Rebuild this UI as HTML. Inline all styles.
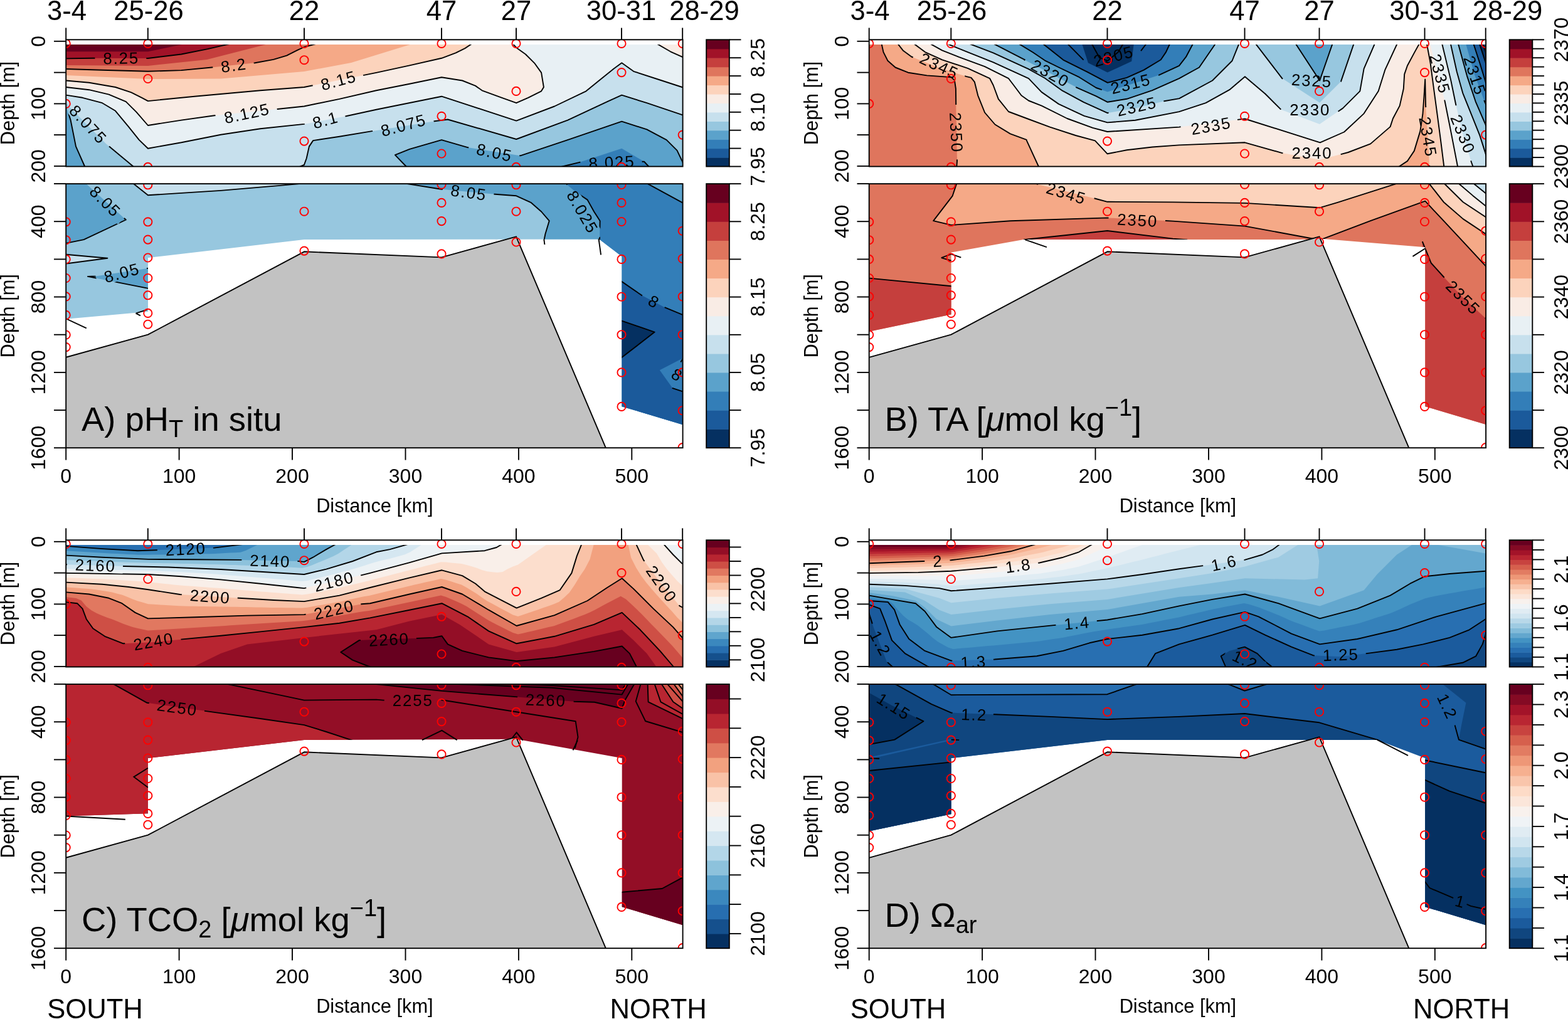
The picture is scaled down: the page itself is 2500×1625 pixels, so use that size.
<!DOCTYPE html>
<html lang="en"><head><meta charset="utf-8"><title>Carbonate chemistry sections</title>
<style>html,body{margin:0;padding:0;background:#fff}svg{display:block}text{font-family:"Liberation Sans", sans-serif;fill:#000}.cl{font-family:"Liberation Sans", sans-serif}</style></head><body>
<svg xmlns="http://www.w3.org/2000/svg" width="2500" height="1625" viewBox="0 0 2500 1625">
<rect width="2500" height="1625" fill="#fff"/>
<!-- panel A -->
<g transform="translate(0,0)">
<clipPath id="c1"><rect x="105.2" y="71" width="983.4" height="194.5"/></clipPath>
<clipPath id="bc1"><rect x="105.2" y="63.3" width="983.4" height="202.2"/></clipPath>
<mask id="m1" maskUnits="userSpaceOnUse" x="0" y="0" width="1300" height="800"><rect x="0" y="0" width="1300" height="800" fill="#fff"/><rect x="151.4" y="81.2" width="81.9" height="23.2" fill="#000" transform="rotate(-1 192.4 92.8)"/><rect x="339.2" y="92.8" width="65.7" height="23.2" fill="#000" transform="rotate(-8 372 104.4)"/><rect x="498" y="116.9" width="81.9" height="23.2" fill="#000" transform="rotate(-15 539 128.5)"/><rect x="343.9" y="169.4" width="98.2" height="23.2" fill="#000" transform="rotate(-12 393 181)"/><rect x="485.2" y="180" width="65.7" height="23.2" fill="#000" transform="rotate(-15 518 191.6)"/><rect x="90.9" y="186.4" width="98.2" height="23.2" fill="#000" transform="rotate(47 140 198)"/><rect x="593.4" y="188.4" width="98.2" height="23.2" fill="#000" transform="rotate(-15 642.5 200)"/><rect x="746.5" y="231.4" width="81.9" height="23.2" fill="#000" transform="rotate(12 787.5 243)"/><rect x="925.4" y="247.2" width="98.2" height="23.2" fill="#000" transform="rotate(-3 974.5 258.8)"/></mask>
<g clip-path="url(#c1)">
<rect x="105.2" y="63.3" width="983.4" height="202.2" fill="#e8f0f4"/>
<polygon points="93.3,137.7 105.3,139 142,143.2 173.5,150.6 200.8,162.1 217.6,178.9 235.9,200 289.1,191.6 341.6,184.2 444.5,173.7 484.9,169.5 541.2,157.9 600,144.3 653,133.8 704.1,123.3 737.1,128.5 758.1,136.9 768.6,144.3 800.1,155.8 823.2,164.2 842.1,155.8 863.1,145.3 866.9,139 863.1,115.9 852.6,101.2 837.9,86.5 823.2,76 817.9,70.1 809.9,61.2 809.9,-3000 -3000,-3000 -3000,137.7" fill="#f9ece5"/>
<polygon points="1037.6,64.1 1048,70.1 1069,82.3 1087.5,90.7 1098.4,95.7 6000,95.7 6000,-3000 1037.6,-3000" fill="#f9ece5"/>
<polygon points="93.3,127.5 105.3,128.5 142,131.7 184,139 209.2,147.4 226.1,155.8 235.9,161.1 310.1,153.7 415.1,144.3 484.9,139 600,115.9 653,104.4 704.1,92.8 726.6,84.4 741.3,77.1 751.8,70.1 761.8,63.5 761.8,-3000 -3000,-3000 -3000,127.5" fill="#fcd3bc"/>
<polygon points="93,119.5 105,120 236,126 352,125.5 485,114 560,100 655,70.7 666.5,67.2 666.5,-3000 -3000,-3000 -3000,119.5" fill="#f5a987"/>
<polygon points="93.3,109.7 105.3,110 163,111.7 235.9,113.8 289.1,112.1 337.4,107.5 406.7,100.2 436.1,94.9 457.1,88.6 473.9,80.2 484.9,75 503.4,70.1 515,67.1 515,-3000 -3000,-3000 -3000,109.7" fill="#df755d"/>
<polygon points="93,103.9 105,104 236,105 330,95 425,70.7 436.6,67.7 436.6,-3000 -3000,-3000 -3000,103.9" fill="#c53f3d"/>
<polygon points="93.3,93.6 105.3,93.4 148.3,92.8 235.9,93 289.1,86.5 331.1,78.1 364.7,70.3 376.4,67.6 376.4,-3000 -3000,-3000 -3000,93.6" fill="#a11228"/>
<polygon points="93,82.3 105,82.3 236,82.3 291.6,70.7 303.3,68.2 303.3,-3000 -3000,-3000 -3000,82.3" fill="#67001f"/>
<polygon points="93.4,149.7 105.3,151.6 131.5,155.8 163,164.2 184,176.8 205,202.1 221.8,223.1 235.9,236.7 289.1,227.3 352.1,214.7 415.1,205.2 484.9,197.9 551.7,185.3 600,174.7 704.1,153.7 823.2,192.6 884.1,169.5 934.5,145.3 957.6,126.4 978.7,109.6 991.3,100.2 1010.2,113.8 1052.2,127.5 1087.5,139 1098.9,142.8 6000,142.8 6000,3000 -3000,3000 -3000,149.7" fill="#c7e0ed"/>
<polygon points="97.9,153.7 105.3,163.2 112.6,172.6 169.3,229.4 194.5,250.4 211.3,264.5 220.5,272.2 220.5,3000 -3000,3000 -3000,153.7" fill="#97c7df"/>
<polygon points="470.2,269 481.3,264.5 484.9,263 488.7,252.5 492.9,233.6 499.2,224.1 541.2,217.8 591.6,209.4 692.9,193.2 713.9,190.5 823.2,222 905.1,191.6 968.2,162.1 991.3,151.6 1031.2,164.2 1087.5,183.2 1098.9,187 6000,187 6000,3000 470.2,3000" fill="#97c7df"/>
<polygon points="101.6,157 105.3,168.4 112.6,191.6 121,233.6 134.7,264.5 139.5,275.4 139.5,3000 -3000,3000 -3000,157" fill="#5ba2cb"/>
<polygon points="655.1,273 646.7,264.5 629.9,247.2 653,237.8 704.1,223.1 746.5,235.3 829.5,248.3 905.1,223.1 991.3,193.7 1031.2,206.3 1062.7,223.1 1079.5,239.9 1087.5,256.7 1092.6,267.5 6000,267.5 6000,3000 655.1,3000" fill="#5ba2cb"/>
<polygon points="889.3,267.3 900.9,264.5 924,258.8 991.3,236.7 1027,257.7 1033.3,264.5 1041.5,273.2" fill="#337eb8"/>
</g>
<g clip-path="url(#c1)"><g mask="url(#m1)" fill="none" stroke="#000" stroke-width="1.9" stroke-linejoin="round">
<polyline points="93.3,137.7 105.3,139 142,143.2 173.5,150.6 200.8,162.1 217.6,178.9 235.9,200 289.1,191.6 341.6,184.2 444.5,173.7 484.9,169.5 541.2,157.9 600,144.3 653,133.8 704.1,123.3 737.1,128.5 758.1,136.9 768.6,144.3 800.1,155.8 823.2,164.2 842.1,155.8 863.1,145.3 866.9,139 863.1,115.9 852.6,101.2 837.9,86.5 823.2,76 817.9,70.1 809.9,61.2"/>
<polyline points="1037.6,64.1 1048,70.1 1069,82.3 1087.5,90.7 1098.4,95.7"/>
<polyline points="93.3,127.5 105.3,128.5 142,131.7 184,139 209.2,147.4 226.1,155.8 235.9,161.1 310.1,153.7 415.1,144.3 484.9,139 600,115.9 653,104.4 704.1,92.8 726.6,84.4 741.3,77.1 751.8,70.1 761.8,63.5"/>
<polyline points="93.3,109.7 105.3,110 163,111.7 235.9,113.8 289.1,112.1 337.4,107.5 406.7,100.2 436.1,94.9 457.1,88.6 473.9,80.2 484.9,75 503.4,70.1 515,67.1"/>
<polyline points="93.3,93.6 105.3,93.4 148.3,92.8 235.9,93 289.1,86.5 331.1,78.1 364.7,70.3 376.4,67.6"/>
<polyline points="93.4,149.7 105.3,151.6 131.5,155.8 163,164.2 184,176.8 205,202.1 221.8,223.1 235.9,236.7 289.1,227.3 352.1,214.7 415.1,205.2 484.9,197.9 551.7,185.3 600,174.7 704.1,153.7 823.2,192.6 884.1,169.5 934.5,145.3 957.6,126.4 978.7,109.6 991.3,100.2 1010.2,113.8 1052.2,127.5 1087.5,139 1098.9,142.8"/>
<polyline points="97.9,153.7 105.3,163.2 112.6,172.6 169.3,229.4 194.5,250.4 211.3,264.5 220.5,272.2"/>
<polyline points="470.2,269 481.3,264.5 484.9,263 488.7,252.5 492.9,233.6 499.2,224.1 541.2,217.8 591.6,209.4 692.9,193.2 713.9,190.5 823.2,222 905.1,191.6 968.2,162.1 991.3,151.6 1031.2,164.2 1087.5,183.2 1098.9,187"/>
<polyline points="101.6,157 105.3,168.4 112.6,191.6 121,233.6 134.7,264.5 139.5,275.4"/>
<polyline points="655.1,273 646.7,264.5 629.9,247.2 653,237.8 704.1,223.1 746.5,235.3 829.5,248.3 905.1,223.1 991.3,193.7 1031.2,206.3 1062.7,223.1 1079.5,239.9 1087.5,256.7 1092.6,267.5"/>
<polyline points="889.3,267.3 900.9,264.5 924,258.8 1027,257.7 1033.3,264.5 1041.5,273.2"/>
</g></g>
<g clip-path="url(#bc1)">
<text x="193.3" y="92.8" transform="rotate(-1 192.4 92.8)" font-size="25.8" letter-spacing="1.9" text-anchor="middle" dominant-baseline="central" class="cl">8.25</text>
<text x="372.9" y="104.4" transform="rotate(-8 372 104.4)" font-size="25.8" letter-spacing="1.9" text-anchor="middle" dominant-baseline="central" class="cl">8.2</text>
<text x="540" y="128.5" transform="rotate(-15 539 128.5)" font-size="25.8" letter-spacing="1.9" text-anchor="middle" dominant-baseline="central" class="cl">8.15</text>
<text x="393.9" y="181" transform="rotate(-12 393 181)" font-size="25.8" letter-spacing="1.9" text-anchor="middle" dominant-baseline="central" class="cl">8.125</text>
<text x="519" y="191.6" transform="rotate(-15 518 191.6)" font-size="25.8" letter-spacing="1.9" text-anchor="middle" dominant-baseline="central" class="cl">8.1</text>
<text x="140.9" y="198" transform="rotate(47 140 198)" font-size="25.8" letter-spacing="1.9" text-anchor="middle" dominant-baseline="central" class="cl">8.075</text>
<text x="643.5" y="200" transform="rotate(-15 642.5 200)" font-size="25.8" letter-spacing="1.9" text-anchor="middle" dominant-baseline="central" class="cl">8.075</text>
<text x="788.5" y="243" transform="rotate(12 787.5 243)" font-size="25.8" letter-spacing="1.9" text-anchor="middle" dominant-baseline="central" class="cl">8.05</text>
<text x="975.5" y="258.8" transform="rotate(-3 974.5 258.8)" font-size="25.8" letter-spacing="1.9" text-anchor="middle" dominant-baseline="central" class="cl">8.025</text>
</g>
<g clip-path="url(#bc1)" fill="none" stroke="#f00" stroke-width="1.9">
<circle cx="105.2" cy="69.4" r="6.6"/>
<circle cx="105.2" cy="165.4" r="6.6"/>
<circle cx="235.8" cy="69.4" r="6.6"/>
<circle cx="235.8" cy="125.5" r="6.6"/>
<circle cx="235.8" cy="266.4" r="6.6"/>
<circle cx="485" cy="69.4" r="6.6"/>
<circle cx="485" cy="95.7" r="6.6"/>
<circle cx="485" cy="225.1" r="6.6"/>
<circle cx="704" cy="69.4" r="6.6"/>
<circle cx="704" cy="185.3" r="6.6"/>
<circle cx="704" cy="245" r="6.6"/>
<circle cx="823" cy="69.4" r="6.6"/>
<circle cx="823" cy="145.4" r="6.6"/>
<circle cx="823" cy="266.4" r="6.6"/>
<circle cx="991" cy="69.4" r="6.6"/>
<circle cx="991" cy="115.6" r="6.6"/>
<circle cx="991" cy="266.4" r="6.6"/>
<circle cx="1088.2" cy="69.4" r="6.6"/>
<circle cx="1088.2" cy="215.1" r="6.6"/>
</g>
<rect x="105.2" y="63.3" width="983.4" height="202.2" fill="none" stroke="#000" stroke-width="1.9"/>
</g>
<g transform="translate(0,0)">
<clipPath id="c2"><polygon points="105.2,293 1088.5,293 1088.5,677.2 991.5,648.2 991.5,409 955.5,381.6 485,382 236,411 236,497 105.2,508.7"/></clipPath>
<clipPath id="bc2"><rect x="105.2" y="293.1" width="983.4" height="421.1"/></clipPath>
<mask id="m2" maskUnits="userSpaceOnUse" x="0" y="0" width="1300" height="800"><rect x="0" y="0" width="1300" height="800" fill="#fff"/><rect x="126.2" y="309.1" width="81.9" height="23.2" fill="#000" transform="rotate(45 167.2 320.7)"/><rect x="152.5" y="423.6" width="81.9" height="23.2" fill="#000" transform="rotate(-15 193.5 435.2)"/><rect x="705.5" y="295.4" width="81.9" height="23.2" fill="#000" transform="rotate(8 746.5 307)"/><rect x="879.1" y="325.9" width="98.2" height="23.2" fill="#000" transform="rotate(60 928.2 337.5)"/><rect x="1021.7" y="469.1" width="40.3" height="23.2" fill="#000" transform="rotate(30 1041.9 480.7)"/><rect x="1058.8" y="585.9" width="40.3" height="23.2" fill="#000" transform="rotate(30 1079 597.5)"/></mask>
<g clip-path="url(#c2)">
<rect x="105.2" y="293.1" width="983.4" height="421.1" fill="#97c7df"/>
<polygon points="211.3,291.7 211.3,291.7 235.9,311.3 352.1,303.9 446.6,295.9 482.4,292.6 482.4,292.6" fill="#c7e0ed"/>
<polygon points="103.2,405.6 103.2,405.6 171.4,411.7 103.2,420.7 103.2,420.7" fill="#c7e0ed"/>
<polygon points="128.9,285.3 137.8,293.4 200.8,350.5 133.6,382.1 105.3,387.9 93.5,390.4 -3000,390.4 -3000,-3000 128.9,-3000" fill="#5ba2cb"/>
<polygon points="238.7,427.4 238.7,427.4 152.5,440.5 139.9,440.9 238.7,460.4 238.7,460.4" fill="#5ba2cb"/>
<polygon points="639.1,291.5 650.9,293.4 703.4,301.8 789.6,309.8 823.2,312.3 846.3,322.8 863.1,337.5 875.7,352.2 869.4,373.2 867.3,383.7 865,395.5 865,3000 6000,3000 6000,-3000 639.1,-3000" fill="#5ba2cb"/>
<polygon points="893.9,285.6 903,293.4 917.7,306 936.6,318.6 947.1,337.5 956.6,352.2 956,381.6 955.7,393.6 955.7,3000 6000,3000 6000,-3000 893.9,-3000" fill="#337eb8"/>
<polygon points="1022.7,287.7 1033.3,293.4 1087.5,322.8 1098,328.5 6000,328.5 6000,-3000 1022.7,-3000" fill="#5ba2cb"/>
<polygon points="981.7,442.2 991.5,449.1 1022.9,470.8 1060.9,490.7 1089.5,502.5 1100.6,507 6000,507 6000,3000 981.7,3000" fill="#1b5a9b"/>
<polygon points="988.5,510.6 988.5,510.6 1043.7,529.6 988.5,572.2 988.5,572.2" fill="#053061"/>
<polygon points="1091.7,569.5 1091.7,569.5 1051.8,590.3 1071.8,618.3 1091.7,625 1091.7,625" fill="#337eb8"/>
</g>
<g clip-path="url(#c2)"><g mask="url(#m2)" fill="none" stroke="#000" stroke-width="1.9" stroke-linejoin="round">
<polyline points="211.3,291.7 211.3,291.7 235.9,311.3 352.1,303.9 446.6,295.9 482.4,292.6 482.4,292.6"/>
<polyline points="103.2,405.6 103.2,405.6 171.4,411.7 103.2,420.7 103.2,420.7"/>
<polyline points="128.9,285.3 137.8,293.4 200.8,350.5 133.6,382.1 105.3,387.9 93.5,390.4"/>
<polyline points="238.7,427.4 238.7,427.4 152.5,440.5 139.9,440.9 238.7,460.4 238.7,460.4"/>
<polyline points="639.1,291.5 650.9,293.4 703.4,301.8 789.6,309.8 823.2,312.3 846.3,322.8 863.1,337.5 875.7,352.2 869.4,373.2 867.3,383.7 865,395.5"/>
<polyline points="893.9,285.6 903,293.4 917.7,306 936.6,318.6 947.1,337.5 956.6,352.2 956,381.6 955.7,393.6"/>
<polyline points="1022.7,287.7 1033.3,293.4 1087.5,322.8 1098,328.5"/>
<polyline points="981.7,442.2 991.5,449.1 1022.9,470.8 1060.9,490.7 1089.5,502.5 1100.6,507"/>
<polyline points="988.5,510.6 988.5,510.6 1043.7,529.6 988.5,572.2 988.5,572.2"/>
</g></g>
<g clip-path="url(#bc2)"><g mask="url(#m2)" fill="none" stroke="#000" stroke-width="1.9">
<polyline points="867.3,381.6 868.4,390"/>
<polyline points="954.5,380.6 958.1,406.4"/>
<polyline points="106.3,508.7 137.8,523.4"/>
<polyline points="216.6,499.6 234.5,493.9"/>
<polyline points="216.6,499.6 223.9,503.4"/>
<polyline points="1071.8,618.9 1089.5,624.7"/>
<polyline points="1085.3,577.6 1089.5,570.7"/>
</g></g>
<g clip-path="url(#bc2)">
<text x="168.1" y="320.7" transform="rotate(45 167.2 320.7)" font-size="25.8" letter-spacing="1.9" text-anchor="middle" dominant-baseline="central" class="cl">8.05</text>
<text x="194.4" y="435.2" transform="rotate(-15 193.5 435.2)" font-size="25.8" letter-spacing="1.9" text-anchor="middle" dominant-baseline="central" class="cl">8.05</text>
<text x="747.5" y="307" transform="rotate(8 746.5 307)" font-size="25.8" letter-spacing="1.9" text-anchor="middle" dominant-baseline="central" class="cl">8.05</text>
<text x="929.2" y="337.5" transform="rotate(60 928.2 337.5)" font-size="25.8" letter-spacing="1.9" text-anchor="middle" dominant-baseline="central" class="cl">8.025</text>
<text x="1042.9" y="480.7" transform="rotate(30 1041.9 480.7)" font-size="25.8" letter-spacing="1.9" text-anchor="middle" dominant-baseline="central" class="cl">8</text>
<text x="1080" y="597.5" transform="rotate(30 1079 597.5)" font-size="25.8" letter-spacing="1.9" text-anchor="middle" dominant-baseline="central" class="cl">8</text>
</g>
<g clip-path="url(#bc2)"><polygon points="85.2,572.8 105.2,569.8 235.8,533.7 485,401.3 704,410.4 823,377.3 965.8,714.2 971.2,729.3 1138.6,764.2 55.2,764.2" fill="#c2c2c2"/><polyline points="85.2,572.8 105.2,569.8 235.8,533.7 485,401.3 704,410.4 823,377.3 965.8,714.2 971.2,729.3" fill="none" stroke="#000" stroke-width="1.9" stroke-linejoin="round"/></g>
<g clip-path="url(#bc2)" fill="none" stroke="#f00" stroke-width="1.9">
<circle cx="105.2" cy="353.8" r="6.6"/>
<circle cx="105.2" cy="382.7" r="6.6"/>
<circle cx="105.2" cy="413.4" r="6.6"/>
<circle cx="105.2" cy="443.5" r="6.6"/>
<circle cx="105.2" cy="472.9" r="6.6"/>
<circle cx="105.2" cy="502.4" r="6.6"/>
<circle cx="105.2" cy="534" r="6.6"/>
<circle cx="105.2" cy="553.6" r="6.6"/>
<circle cx="235.8" cy="294.8" r="6.6"/>
<circle cx="235.8" cy="353.8" r="6.6"/>
<circle cx="235.8" cy="382.1" r="6.6"/>
<circle cx="235.8" cy="411" r="6.6"/>
<circle cx="235.8" cy="443.5" r="6.6"/>
<circle cx="235.8" cy="470.8" r="6.6"/>
<circle cx="235.8" cy="499.4" r="6.6"/>
<circle cx="235.8" cy="517.2" r="6.6"/>
<circle cx="485" cy="337.2" r="6.6"/>
<circle cx="485" cy="400.1" r="6.6"/>
<circle cx="704" cy="294.2" r="6.6"/>
<circle cx="704" cy="323.4" r="6.6"/>
<circle cx="704" cy="352.6" r="6.6"/>
<circle cx="704" cy="404.9" r="6.6"/>
<circle cx="823" cy="294.8" r="6.6"/>
<circle cx="823" cy="337.2" r="6.6"/>
<circle cx="823" cy="386" r="6.6"/>
<circle cx="991" cy="294.5" r="6.6"/>
<circle cx="991" cy="323.4" r="6.6"/>
<circle cx="991" cy="353.5" r="6.6"/>
<circle cx="991" cy="413.4" r="6.6"/>
<circle cx="991" cy="473.2" r="6.6"/>
<circle cx="991" cy="533.7" r="6.6"/>
<circle cx="991" cy="593.9" r="6.6"/>
<circle cx="991" cy="648.4" r="6.6"/>
<circle cx="1088.2" cy="368.2" r="6.6"/>
<circle cx="1088.2" cy="412.5" r="6.6"/>
<circle cx="1088.2" cy="472.9" r="6.6"/>
<circle cx="1088.2" cy="533.7" r="6.6"/>
<circle cx="1088.2" cy="593.9" r="6.6"/>
<circle cx="1088.2" cy="654.7" r="6.6"/>
<circle cx="1088.2" cy="713.6" r="6.6"/>
</g>
<rect x="105.2" y="293.1" width="983.4" height="421.1" fill="none" stroke="#000" stroke-width="1.9"/>
</g>
<g transform="translate(0,0)">
<rect x="1126.2" y="251.1" width="36.6" height="14.44" fill="#053061"/>
<rect x="1126.2" y="236.6" width="36.6" height="15.04" fill="#1b5a9b"/>
<rect x="1126.2" y="222.2" width="36.6" height="15.04" fill="#337eb8"/>
<rect x="1126.2" y="207.7" width="36.6" height="15.04" fill="#5ba2cb"/>
<rect x="1126.2" y="193.3" width="36.6" height="15.04" fill="#97c7df"/>
<rect x="1126.2" y="178.8" width="36.6" height="15.04" fill="#c7e0ed"/>
<rect x="1126.2" y="164.4" width="36.6" height="15.04" fill="#e8f0f4"/>
<rect x="1126.2" y="150" width="36.6" height="15.04" fill="#f9ece5"/>
<rect x="1126.2" y="135.5" width="36.6" height="15.04" fill="#fcd3bc"/>
<rect x="1126.2" y="121.1" width="36.6" height="15.04" fill="#f5a987"/>
<rect x="1126.2" y="106.6" width="36.6" height="15.04" fill="#df755d"/>
<rect x="1126.2" y="92.2" width="36.6" height="15.04" fill="#c53f3d"/>
<rect x="1126.2" y="77.7" width="36.6" height="15.04" fill="#a11228"/>
<rect x="1126.2" y="63.3" width="36.6" height="15.04" fill="#67001f"/>
<rect x="1126.2" y="63.3" width="36.6" height="202.2" fill="none" stroke="#000" stroke-width="1.9"/>
<line x1="1162.8" y1="265.5" x2="1181.5" y2="265.5" stroke="#000" stroke-width="1.9"/>
<line x1="1162.8" y1="236.6" x2="1181.5" y2="236.6" stroke="#000" stroke-width="1.9"/>
<line x1="1162.8" y1="207.7" x2="1181.5" y2="207.7" stroke="#000" stroke-width="1.9"/>
<line x1="1162.8" y1="178.8" x2="1181.5" y2="178.8" stroke="#000" stroke-width="1.9"/>
<line x1="1162.8" y1="150" x2="1181.5" y2="150" stroke="#000" stroke-width="1.9"/>
<line x1="1162.8" y1="121.1" x2="1181.5" y2="121.1" stroke="#000" stroke-width="1.9"/>
<line x1="1162.8" y1="92.2" x2="1181.5" y2="92.2" stroke="#000" stroke-width="1.9"/>
<line x1="1162.8" y1="63.3" x2="1181.5" y2="63.3" stroke="#000" stroke-width="1.9"/>
<text transform="translate(1219,265.5) rotate(-90)" font-size="32" text-anchor="middle">7.95</text>
<text transform="translate(1219,178.8) rotate(-90)" font-size="32" text-anchor="middle">8.10</text>
<text transform="translate(1219,92.2) rotate(-90)" font-size="32" text-anchor="middle">8.25</text>
</g>
<g transform="translate(0,0)">
<rect x="1126.2" y="684.2" width="36.6" height="30.08" fill="#053061"/>
<rect x="1126.2" y="654.1" width="36.6" height="30.68" fill="#1b5a9b"/>
<rect x="1126.2" y="624" width="36.6" height="30.68" fill="#337eb8"/>
<rect x="1126.2" y="593.9" width="36.6" height="30.68" fill="#5ba2cb"/>
<rect x="1126.2" y="563.8" width="36.6" height="30.68" fill="#97c7df"/>
<rect x="1126.2" y="533.8" width="36.6" height="30.68" fill="#c7e0ed"/>
<rect x="1126.2" y="503.7" width="36.6" height="30.68" fill="#e8f0f4"/>
<rect x="1126.2" y="473.6" width="36.6" height="30.68" fill="#f9ece5"/>
<rect x="1126.2" y="443.5" width="36.6" height="30.68" fill="#fcd3bc"/>
<rect x="1126.2" y="413.4" width="36.6" height="30.68" fill="#f5a987"/>
<rect x="1126.2" y="383.3" width="36.6" height="30.68" fill="#df755d"/>
<rect x="1126.2" y="353.3" width="36.6" height="30.68" fill="#c53f3d"/>
<rect x="1126.2" y="323.2" width="36.6" height="30.68" fill="#a11228"/>
<rect x="1126.2" y="293.1" width="36.6" height="30.68" fill="#67001f"/>
<rect x="1126.2" y="293.1" width="36.6" height="421.1" fill="none" stroke="#000" stroke-width="1.9"/>
<line x1="1162.8" y1="714.2" x2="1181.5" y2="714.2" stroke="#000" stroke-width="1.9"/>
<line x1="1162.8" y1="654.1" x2="1181.5" y2="654.1" stroke="#000" stroke-width="1.9"/>
<line x1="1162.8" y1="593.9" x2="1181.5" y2="593.9" stroke="#000" stroke-width="1.9"/>
<line x1="1162.8" y1="533.8" x2="1181.5" y2="533.8" stroke="#000" stroke-width="1.9"/>
<line x1="1162.8" y1="473.6" x2="1181.5" y2="473.6" stroke="#000" stroke-width="1.9"/>
<line x1="1162.8" y1="413.4" x2="1181.5" y2="413.4" stroke="#000" stroke-width="1.9"/>
<line x1="1162.8" y1="353.3" x2="1181.5" y2="353.3" stroke="#000" stroke-width="1.9"/>
<line x1="1162.8" y1="293.1" x2="1181.5" y2="293.1" stroke="#000" stroke-width="1.9"/>
<text transform="translate(1219,714.2) rotate(-90)" font-size="32" text-anchor="middle">7.95</text>
<text transform="translate(1219,593.9) rotate(-90)" font-size="32" text-anchor="middle">8.05</text>
<text transform="translate(1219,473.6) rotate(-90)" font-size="32" text-anchor="middle">8.15</text>
<text transform="translate(1219,353.3) rotate(-90)" font-size="32" text-anchor="middle">8.25</text>
</g>
<g transform="translate(0,0)">
<g stroke="#000" stroke-width="1.9" fill="none">
<line x1="105.2" y1="44.4" x2="105.2" y2="63.3"/>
<line x1="235.8" y1="44.4" x2="235.8" y2="63.3"/>
<line x1="485" y1="44.4" x2="485" y2="63.3"/>
<line x1="704" y1="44.4" x2="704" y2="63.3"/>
<line x1="823" y1="44.4" x2="823" y2="63.3"/>
<line x1="991" y1="44.4" x2="991" y2="63.3"/>
<line x1="1088.2" y1="44.4" x2="1088.2" y2="63.3"/>
<line x1="86" y1="65.8" x2="105.2" y2="65.8"/>
<line x1="86" y1="115.6" x2="105.2" y2="115.6"/>
<line x1="86" y1="165.4" x2="105.2" y2="165.4"/>
<line x1="86" y1="215.1" x2="105.2" y2="215.1"/>
<line x1="86" y1="264.9" x2="105.2" y2="264.9"/>
<line x1="86" y1="293" x2="105.2" y2="293"/>
<line x1="86" y1="353.2" x2="105.2" y2="353.2"/>
<line x1="86" y1="413.4" x2="105.2" y2="413.4"/>
<line x1="86" y1="473.5" x2="105.2" y2="473.5"/>
<line x1="86" y1="533.7" x2="105.2" y2="533.7"/>
<line x1="86" y1="593.9" x2="105.2" y2="593.9"/>
<line x1="86" y1="654.1" x2="105.2" y2="654.1"/>
<line x1="86" y1="714.2" x2="105.2" y2="714.2"/>
<line x1="105.2" y1="714.2" x2="105.2" y2="733.6"/>
<line x1="285.6" y1="714.2" x2="285.6" y2="733.6"/>
<line x1="466" y1="714.2" x2="466" y2="733.6"/>
<line x1="646.5" y1="714.2" x2="646.5" y2="733.6"/>
<line x1="826.9" y1="714.2" x2="826.9" y2="733.6"/>
<line x1="1007.3" y1="714.2" x2="1007.3" y2="733.6"/>
</g>
<text transform="translate(72.4,65.8) rotate(-90)" font-size="32" text-anchor="middle">0</text>
<text transform="translate(72.4,165.4) rotate(-90)" font-size="32" text-anchor="middle">100</text>
<text transform="translate(72.4,264.9) rotate(-90)" font-size="32" text-anchor="middle">200</text>
<text transform="translate(72.4,353.2) rotate(-90)" font-size="32" text-anchor="middle">400</text>
<text transform="translate(72.4,473.5) rotate(-90)" font-size="32" text-anchor="middle">800</text>
<text transform="translate(72.4,593.9) rotate(-90)" font-size="32" text-anchor="middle">1200</text>
<text transform="translate(72.4,714.2) rotate(-90)" font-size="32" text-anchor="middle">1600</text>
<text x="105.2" y="769.7" font-size="32" text-anchor="middle">0</text>
<text x="285.6" y="769.7" font-size="32" text-anchor="middle">100</text>
<text x="466" y="769.7" font-size="32" text-anchor="middle">200</text>
<text x="646.5" y="769.7" font-size="32" text-anchor="middle">300</text>
<text x="826.9" y="769.7" font-size="32" text-anchor="middle">400</text>
<text x="1007.3" y="769.7" font-size="32" text-anchor="middle">500</text>
<text transform="translate(23.3,164.4) rotate(-90)" font-size="30.8" text-anchor="middle">Depth [m]</text>
<text transform="translate(23.3,503.7) rotate(-90)" font-size="30.8" text-anchor="middle">Depth [m]</text>
<text x="597.4" y="816.8" font-size="30.8" text-anchor="middle">Distance [km]</text>
<text x="130" y="687.3" font-size="54.4">A) pH<tspan dy="9.5" font-size="38">T</tspan><tspan dy="-9.5">&#8203;</tspan> in situ</text>
</g>
<!-- panel B -->
<g transform="translate(1280.5,0)">
<clipPath id="c3"><rect x="105.2" y="71" width="983.4" height="194.5"/></clipPath>
<clipPath id="bc3"><rect x="105.2" y="63.3" width="983.4" height="202.2"/></clipPath>
<mask id="m3" maskUnits="userSpaceOnUse" x="0" y="0" width="1300" height="800"><rect x="0" y="0" width="1300" height="800" fill="#fff"/></mask>
<g clip-path="url(#c3)">
<rect x="105.2" y="63.3" width="983.4" height="202.2" fill="#f9ece5"/>
<polygon points="168.7,63.7 178.3,70.9 194.5,83.1 221.7,95.3 262.4,108.9 297.7,125.2 303.2,136 311.3,157.8 327.5,178 359.5,190 393.5,202.6 434.5,216 465.5,224.3 485.1,245.3 516,239.2 556.7,234.5 599.5,231.4 704.4,227.3 763.9,244.1 823.6,254.8 868.9,243 904.6,229.4 936.1,202.1 940.4,189 951.2,168.6 957.3,141.5 958.7,118.4 963.4,104.8 974.3,84.4 981.8,70.9 983.5,58 993.5,58 994.7,71.5 1000.1,100.7 1005.5,141.5 1011,182.2 1016.4,222.9 1021.8,265.7 1023.3,277.6 1023.3,3000 -3000,3000 -3000,-3000 168.7,-3000" fill="#fcd3bc"/>
<polygon points="144.4,61.4 151.8,70.9 159.2,80.4 172.8,90.5 214.9,107.5 259.7,121.8 267.9,123.8 273.3,130.6 278.7,152.3 289.6,179.5 305.9,198.5 330.3,213.4 356.1,222.9 356.5,224.3 375.5,265.7 380.5,276.6 380.5,3000 -3000,3000 -3000,-3000 144.4,-3000" fill="#f5a987"/>
<polygon points="939.8,272.2 949.9,265.7 963.4,256.9 974.3,240.6 983.8,209.4 987.9,182.2 989.9,155 991.7,126.5 992.6,168.6 996,217.5 998.7,265.7 999.4,277.7" fill="#f5a987"/>
<polygon points="122.7,59.1 125.3,70.9 128,83.1 134.8,96.7 147,107.5 167.4,115.7 197.3,120.4 236,123.1 241.4,127.9 243.4,141.5 243.7,164.5 245.5,256.9 244.8,265.7 243.9,277.7 243.9,3000 -3000,3000 -3000,-3000 122.7,-3000" fill="#df755d"/>
<polygon points="194.3,65 204.7,70.9 221.7,80.4 248.9,91.2 289.6,106.2 327.6,125.2 335.8,136 348,152.3 359.5,160.5 380.2,168.6 421,189 461.7,203.9 485.1,210 599.5,202.6 704.4,189.5 824.2,227.3 862.6,210.5 894.1,181.1 917.2,145.3 927.7,111.7 946.6,70.8 951.7,59.9 951.7,-3000 194.3,-3000" fill="#e8f0f4"/>
<polygon points="997.1,59.9 1000.1,71.5 1023.2,161.8 1032.7,209.4 1043.6,265.7 1045.8,277.5 1045.8,3000 6000,3000 6000,-3000 997.1,-3000" fill="#e8f0f4"/>
<polygon points="222.8,67 233.9,71.5 262.4,83.1 303.2,99.4 359.5,125.2 380.2,146.9 407.4,165.9 448.1,184.9 485.1,195.4 529.6,191.7 599.5,178.1 642,164.2 679.8,143.2 704.4,122.2 736.6,149.5 761.8,174.7 823.5,197.9 860.5,172.6 887.8,145.3 894.1,109.6 910.9,70.8 915.7,59.7 915.7,-3000 222.8,-3000" fill="#c7e0ed"/>
<polygon points="1016.3,59.9 1019.1,71.5 1024.5,93.9 1032.7,127.9 1040.8,167.3 1051.7,213.4 1065.3,258.2 1068,265.7 1072.1,277 1072.1,3000 6000,3000 6000,-3000 1016.3,-3000" fill="#c7e0ed"/>
<polygon points="256.7,66.6 267.9,70.9 303.2,84.4 359.5,110.2 385.2,124.5 413.4,144.7 447.1,162.8 485.1,180.2 529.6,172.7 575.8,161.2 599.5,157.1 652.5,128.5 684,97 694.5,70.8 699,59.6 699,-3000 256.7,-3000" fill="#97c7df"/>
<polygon points="714.4,60.6 721.7,70.1 763.8,125.1 823.6,163.8 857.5,129.9 877.9,70.1 881.7,58.8 881.7,-3000 714.4,-3000" fill="#97c7df"/>
<polygon points="1030.1,59.8 1032.7,71.5 1042.2,114.3 1051.7,148.3 1065.3,182.2 1078.9,216.1 1089.7,250.1 1093.4,261.5 6000,261.5 6000,-3000 1030.1,-3000" fill="#97c7df"/>
<polygon points="295.2,65.4 305.9,70.9 353.4,95.3 352.9,95.6 393.3,116.4 435.6,139.3 467.2,153.4 485.4,162.8 516,157.8 556.7,144.2 599.5,125.2 631.5,107.5 656.7,70.8 663.5,60.9 663.5,-3000 295.2,-3000" fill="#5ba2cb"/>
<polygon points="779,60.1 785.5,70.1 823.6,128.5 843.9,70.1 847.9,58.8 847.9,-3000 779,-3000" fill="#5ba2cb"/>
<polygon points="1041.7,60 1044.9,71.5 1058.5,121.1 1072.1,161.8 1089.7,202.6 1094.5,213.6 6000,213.6 6000,-3000 1041.7,-3000" fill="#5ba2cb"/>
<polygon points="334.6,64.1 344.9,70.4 366.4,83.5 385.2,96.3 406.7,107 440.3,123.2 467.2,140 485.3,146.5 567.6,119.7 599.5,104.8 610.5,90.7 621,70.8 626.6,60.1 626.6,-3000 334.6,-3000" fill="#337eb8"/>
<polygon points="1053.9,60 1057.1,71.5 1070.7,119.7 1087,163.2 1089.7,168.6 1095.1,179.4 6000,179.4 6000,-3000 1053.9,-3000" fill="#337eb8"/>
<polygon points="373.8,62.9 383.2,70.4 414.8,95.6 453.8,115.1 485.4,131.9 516,123.8 543.2,111.6 570.3,95.3 578.5,83.1 583.9,71.5 589,60.7 589,-3000 373.8,-3000" fill="#1b5a9b"/>
<polygon points="1065.6,60.1 1069.4,71.5 1078.9,100.7 1089.7,136 1093.2,147.5 6000,147.5 6000,-3000 1065.6,-3000" fill="#1b5a9b"/>
<polygon points="441.5,60 441.5,60 454.4,100.3 485.3,115.5 523.7,97.8 528.5,60 528.5,60" fill="#053061"/>
<polygon points="1075.1,60.1 1078.9,71.5 1089.7,104.8 1093.4,116.2 6000,116.2 6000,-3000 1075.1,-3000" fill="#053061"/>
</g>
<g clip-path="url(#c3)"><g mask="url(#m3)" fill="none" stroke="#000" stroke-width="1.9" stroke-linejoin="round">
<polyline points="168.7,63.7 178.3,70.9 194.5,83.1 221.7,95.3 262.4,108.9 297.7,125.2 303.2,136 311.3,157.8 327.5,178 359.5,190 393.5,202.6 434.5,216 465.5,224.3 485.1,245.3 516,239.2 556.7,234.5 599.5,231.4 704.4,227.3 763.9,244.1 764.9,244.3"/>
<polyline points="857.2,246.1 868.9,243 904.6,229.4 936.1,202.1 940.4,189 951.2,168.6 957.3,141.5 958.7,118.4 963.4,104.8 974.3,84.4 981.8,70.9 983.5,58 993.5,58 994.7,71.5 1000.1,100.7 1005.5,141.5 1011,182.2 1016.4,222.9 1021.8,265.7 1023.3,277.6"/>
<polyline points="144.4,61.4 151.8,70.9 159.2,80.4 172.8,90.5 175.2,91.5"/>
<polyline points="257.8,121.2 259.7,121.8 267.9,123.8 273.3,130.6 278.7,152.3 289.6,179.5 305.9,198.5 330.3,213.4 356.1,222.9 356.5,224.3 375.5,265.7 380.5,276.6"/>
<polyline points="939.8,272.2 949.9,265.7 963.4,256.9 974.3,240.6 983.8,209.4 987.9,182.2 989.9,155 991.7,126.5 992.6,168.6 992.8,171.1"/>
<polyline points="998.6,263.7 998.7,265.7 999.4,277.7"/>
<polyline points="122.7,59.1 125.3,70.9 128,83.1 134.8,96.7 147,107.5 167.4,115.7 197.3,120.4 236,123.1 241.4,127.9 243.4,141.5 243.7,164.5 243.7,167.1"/>
<polyline points="245.4,254.4 245.5,256.9 244.8,265.7 243.9,277.7"/>
<polyline points="194.3,65 204.7,70.9 221.7,80.4 248.9,91.2 289.6,106.2 327.6,125.2 335.8,136 348,152.3 359.5,160.5 380.2,168.6 421,189 461.7,203.9 485.1,210 599.5,202.6 602,202.3"/>
<polyline points="692.5,190.9 704.4,189.5 824.2,227.3 862.6,210.5 894.1,181.1 917.2,145.3 927.7,111.7 946.6,70.8 951.7,59.9"/>
<polyline points="997.1,59.9 999.1,67.7"/>
<polyline points="1022.6,159.4 1023.2,161.8 1032.7,209.4 1043.6,265.7 1045.8,277.5"/>
<polyline points="222.8,67 233.9,71.5 262.4,83.1 303.2,99.4 359.5,125.2 380.2,146.9 407.4,165.9 448.1,184.9 485.1,195.4 529.6,191.7 599.5,178.1 642,164.2 679.8,143.2 704.4,122.2 736.6,149.5 761.8,174.7"/>
<polyline points="853,177.7 860.5,172.6 887.8,145.3 894.1,109.6 910.9,70.8 915.7,59.7"/>
<polyline points="1016.3,59.9 1019.1,71.5 1024.5,93.9 1032.7,127.9 1040.8,167.3 1041.1,168.2"/>
<polyline points="1064.7,256.3 1065.3,258.2 1068,265.7 1072.1,277"/>
<polyline points="256.7,66.6 267.9,70.9 303.2,84.4 359.5,110.2 385.2,124.5 413.4,144.7 447.1,162.8 485.1,180.2 487,179.8"/>
<polyline points="574.8,161.4 575.8,161.2 599.5,157.1 652.5,128.5 684,97 694.5,70.8 699,59.6"/>
<polyline points="714.4,60.6 721.7,70.1 763.8,125.1 764.7,125.7"/>
<polyline points="857.1,130.2 857.5,129.9 877.9,70.1 881.7,58.8"/>
<polyline points="1030.1,59.8 1032.7,71.5 1042.2,114.3 1051.7,148.3 1065.3,182.2 1078.9,216.1 1089.7,250.1 1093.4,261.5"/>
<polyline points="295.2,65.4 305.9,70.9 353.4,95.3 352.9,95.6 353.8,96.1"/>
<polyline points="434.8,138.8 435.6,139.3 467.2,153.4 485.4,162.8 516,157.8 556.7,144.2 599.5,125.2 631.5,107.5 656.7,70.8 663.5,60.9"/>
<polyline points="779,60.1 785.5,70.1 823.6,128.5 843.9,70.1 847.9,58.8"/>
<polyline points="1041.7,60 1044.9,71.5 1058.5,121.1 1072.1,161.8 1089.7,202.6 1094.5,213.6"/>
<polyline points="334.6,64.1 344.9,70.4 366.4,83.5 385.2,96.3 406.7,107 440.3,123.2 467.2,140 476.3,143.2"/>
<polyline points="566.7,120.1 567.6,119.7 599.5,104.8 610.5,90.7 621,70.8 626.6,60.1"/>
<polyline points="1053.9,60 1056.1,68"/>
<polyline points="1085.8,159.9 1087,163.2 1089.7,168.6 1095.1,179.4"/>
<polyline points="373.8,62.9 383.2,70.4 414.8,95.6 453.8,115.1 485.4,131.9 516,123.8 543.2,111.6 570.3,95.3 578.5,83.1 583.9,71.5 589,60.7"/>
<polyline points="1065.6,60.1 1069.4,71.5 1078.9,100.7 1089.7,136 1093.2,147.5"/>
<polyline points="413.8,61.8 422.2,70.4 447.1,95.6"/>
<polyline points="538.5,81.1 539.1,80.4 545.9,71.5 553.2,62"/>
<polyline points="1075.1,60.1 1078.9,71.5 1089.7,104.8 1093.4,116.2"/>
<polyline points="454.7,59.9 460.5,70.4 472.6,92.2 485.4,96.9 502.4,83.1 509.2,71.5 515.3,61.2"/>
<polyline points="1080.3,60.2 1084.3,71.5 1089.7,87.2 1093.7,98.5"/>
</g></g>
<g clip-path="url(#bc3)">
<text x="245" y="210.7" transform="rotate(87 244.1 210.7)" font-size="25.8" letter-spacing="1.9" text-anchor="middle" dominant-baseline="central" class="cl">2350</text>
<text x="217.2" y="104.8" transform="rotate(25 216.3 104.8)" font-size="25.8" letter-spacing="1.9" text-anchor="middle" dominant-baseline="central" class="cl">2345</text>
<text x="394.2" y="116.4" transform="rotate(28 393.3 116.4)" font-size="25.8" letter-spacing="1.9" text-anchor="middle" dominant-baseline="central" class="cl">2320</text>
<text x="495.2" y="89.9" transform="rotate(-15 494.3 89.9)" font-size="25.8" letter-spacing="1.9" text-anchor="middle" dominant-baseline="central" class="cl">2305</text>
<text x="522.4" y="134" transform="rotate(-14 521.4 134)" font-size="25.8" letter-spacing="1.9" text-anchor="middle" dominant-baseline="central" class="cl">2315</text>
<text x="531.9" y="170" transform="rotate(-13 530.9 170)" font-size="25.8" letter-spacing="1.9" text-anchor="middle" dominant-baseline="central" class="cl">2325</text>
<text x="650.4" y="201" transform="rotate(-10 649.4 201)" font-size="25.8" letter-spacing="1.9" text-anchor="middle" dominant-baseline="central" class="cl">2335</text>
<text x="811" y="128.5" transform="rotate(3 810 128.5)" font-size="25.8" letter-spacing="1.9" text-anchor="middle" dominant-baseline="central" class="cl">2325</text>
<text x="808.3" y="174.7" transform="rotate(0 807.3 174.7)" font-size="25.8" letter-spacing="1.9" text-anchor="middle" dominant-baseline="central" class="cl">2330</text>
<text x="811.6" y="243.9" transform="rotate(0 810.7 243.9)" font-size="25.8" letter-spacing="1.9" text-anchor="middle" dominant-baseline="central" class="cl">2340</text>
<text x="1016" y="117" transform="rotate(75 1015 117)" font-size="25.8" letter-spacing="1.9" text-anchor="middle" dominant-baseline="central" class="cl">2335</text>
<text x="997" y="217.5" transform="rotate(80 996 217.5)" font-size="25.8" letter-spacing="1.9" text-anchor="middle" dominant-baseline="central" class="cl">2345</text>
<text x="1052.6" y="213.4" transform="rotate(68 1051.7 213.4)" font-size="25.8" letter-spacing="1.9" text-anchor="middle" dominant-baseline="central" class="cl">2330</text>
<text x="1071.6" y="119.7" transform="rotate(72 1070.7 119.7)" font-size="25.8" letter-spacing="1.9" text-anchor="middle" dominant-baseline="central" class="cl">2315</text>
</g>
<g clip-path="url(#bc3)" fill="none" stroke="#f00" stroke-width="1.9">
<circle cx="105.2" cy="69.4" r="6.6"/>
<circle cx="105.2" cy="165.4" r="6.6"/>
<circle cx="235.8" cy="69.4" r="6.6"/>
<circle cx="235.8" cy="125.5" r="6.6"/>
<circle cx="235.8" cy="266.4" r="6.6"/>
<circle cx="485" cy="69.4" r="6.6"/>
<circle cx="485" cy="95.7" r="6.6"/>
<circle cx="485" cy="225.1" r="6.6"/>
<circle cx="704" cy="69.4" r="6.6"/>
<circle cx="704" cy="185.3" r="6.6"/>
<circle cx="704" cy="245" r="6.6"/>
<circle cx="823" cy="69.4" r="6.6"/>
<circle cx="823" cy="145.4" r="6.6"/>
<circle cx="823" cy="266.4" r="6.6"/>
<circle cx="991" cy="69.4" r="6.6"/>
<circle cx="991" cy="115.6" r="6.6"/>
<circle cx="991" cy="266.4" r="6.6"/>
<circle cx="1088.2" cy="69.4" r="6.6"/>
<circle cx="1088.2" cy="215.1" r="6.6"/>
</g>
<rect x="105.2" y="63.3" width="983.4" height="202.2" fill="none" stroke="#000" stroke-width="1.9"/>
</g>
<g transform="translate(1280.5,0)">
<clipPath id="c4"><polygon points="105.2,293 1089.5,293 1089.5,677.2 991.8,648.2 991.8,394.2 824.2,380.6 819.5,382 351.5,382 236.1,402.6 236.1,501.4 105.2,528.7"/></clipPath>
<clipPath id="bc4"><rect x="105.2" y="293.1" width="983.4" height="421.1"/></clipPath>
<mask id="m4" maskUnits="userSpaceOnUse" x="0" y="0" width="1300" height="800"><rect x="0" y="0" width="1300" height="800" fill="#fff"/></mask>
<g clip-path="url(#c4)">
<rect x="105.2" y="293.1" width="983.4" height="421.1" fill="#df755d"/>
<polygon points="248.3,282 244.5,293.4 238.2,312.3 207.7,352.2 236.1,358.9 330.6,352.2 485,347.4 589.5,352.6 704.4,360.6 824.2,382.7 904.6,352.2 991.8,320.7 1021.2,352.2 1052.2,385.3 1089.5,425.6 1097.6,434.5 6000,434.5 6000,-3000 248.3,-3000" fill="#f5a987"/>
<polygon points="361,290.5 372.6,293.4 465,316.5 485,321.8 589.5,322.4 704.4,323.9 824.2,331.2 852.1,322.8 944.5,293.4 956,289.8 956,-3000 361,-3000" fill="#fcd3bc"/>
<polygon points="991.6,284.3 999,293.8 1021.2,322.2 1052.2,349.1 1089.5,373.9 1099.4,380.6 6000,380.6 6000,-3000 991.6,-3000" fill="#fcd3bc"/>
<polygon points="1014.7,285.4 1023.3,293.8 1052.2,322.2 1089.5,347 1099.4,353.7 6000,353.7 6000,-3000 1014.7,-3000" fill="#f9ece5"/>
<polygon points="1037.4,286 1046.5,293.8 1067.7,311.9 1089.5,329.5 1098.8,337 6000,337 6000,-3000 1037.4,-3000" fill="#e8f0f4"/>
<polygon points="1061,286.2 1070.3,293.8 1089.5,309.3 1098.8,316.9 6000,316.9 6000,-3000 1061,-3000" fill="#c7e0ed"/>
<polygon points="351.6,382.3 351.6,382.3 485,368 589.5,380.6 612.6,382.5 612.6,382.5" fill="#c53f3d"/>
<polygon points="93.4,442.5 105.4,443.6 236.1,456.2 248,457.4 248,3000 -3000,3000 -3000,442.5" fill="#c53f3d"/>
<polygon points="987.3,385.2 991.8,396.3 1001.3,419.5 1021.2,441.5 1051.7,474.1 1088.4,507.7 1097.3,515.8 6000,515.8 6000,3000 987.3,3000" fill="#c53f3d"/>
</g>
<g clip-path="url(#c4)"><g mask="url(#m4)" fill="none" stroke="#000" stroke-width="1.9" stroke-linejoin="round">
<polyline points="248.3,282 244.5,293.4 238.2,312.3 207.7,352.2 236.1,358.9 330.6,352.2 485,347.4 487,347.5"/>
<polyline points="577.5,352 589.5,352.6 704.4,360.6 824.2,382.7 904.6,352.2 991.8,320.7 1021.2,352.2 1052.2,385.3 1089.5,425.6 1097.6,434.5"/>
<polyline points="361,290.5 372.6,293.4 374.6,293.9"/>
<polyline points="464.1,316.3 465,316.5 485,321.8 589.5,322.4 704.4,323.9 824.2,331.2 852.1,322.8 944.5,293.4 956,289.8"/>
<polyline points="991.6,284.3 999,293.8 1021.2,322.2 1052.2,349.1 1089.5,373.9 1099.4,380.6"/>
<polyline points="1014.7,285.4 1023.3,293.8 1052.2,322.2 1089.5,347 1099.4,353.7"/>
<polyline points="1037.4,286 1046.5,293.8 1067.7,311.9 1089.5,329.5 1098.8,337"/>
<polyline points="1061,286.2 1070.3,293.8 1089.5,309.3 1098.8,316.9"/>
<polyline points="351.6,382.3 351.6,382.3 485,368 589.5,380.6 612.6,382.5 612.6,382.5"/>
<polyline points="93.4,442.5 105.4,443.6 236.1,456.2 248,457.4"/>
<polyline points="987.3,385.2 991.8,396.3 1001.3,419.5 1021.2,441.5 1022.2,442.6"/>
<polyline points="1087.3,506.7 1088.4,507.7 1097.3,515.8"/>
</g></g>
<g clip-path="url(#bc4)"><g mask="url(#m4)" fill="none" stroke="#000" stroke-width="1.9">
<polyline points="353.7,382.1 388.4,394.2"/>
<polyline points="220.3,411.1 236.1,405.2 251.8,410.6"/>
<polyline points="220.3,411.1 236.1,415.7"/>
<polyline points="971.9,408.9 991.8,396.3"/>
</g></g>
<g clip-path="url(#bc4)">
<text x="419.7" y="308.1" transform="rotate(17 418.8 308.1)" font-size="25.8" letter-spacing="1.9" text-anchor="middle" dominant-baseline="central" class="cl">2345</text>
<text x="533.2" y="351.2" transform="rotate(3 532.3 351.2)" font-size="25.8" letter-spacing="1.9" text-anchor="middle" dominant-baseline="central" class="cl">2350</text>
<text x="1052.6" y="474.1" transform="rotate(45 1051.7 474.1)" font-size="25.8" letter-spacing="1.9" text-anchor="middle" dominant-baseline="central" class="cl">2355</text>
</g>
<g clip-path="url(#bc4)"><polygon points="85.2,572.8 105.2,569.8 235.8,533.7 485,401.3 704,410.4 823,377.3 965.8,714.2 971.2,729.3 1138.6,764.2 55.2,764.2" fill="#c2c2c2"/><polyline points="85.2,572.8 105.2,569.8 235.8,533.7 485,401.3 704,410.4 823,377.3 965.8,714.2 971.2,729.3" fill="none" stroke="#000" stroke-width="1.9" stroke-linejoin="round"/></g>
<g clip-path="url(#bc4)" fill="none" stroke="#f00" stroke-width="1.9">
<circle cx="105.2" cy="353.8" r="6.6"/>
<circle cx="105.2" cy="382.7" r="6.6"/>
<circle cx="105.2" cy="413.4" r="6.6"/>
<circle cx="105.2" cy="443.5" r="6.6"/>
<circle cx="105.2" cy="472.9" r="6.6"/>
<circle cx="105.2" cy="502.4" r="6.6"/>
<circle cx="105.2" cy="534" r="6.6"/>
<circle cx="105.2" cy="553.6" r="6.6"/>
<circle cx="235.8" cy="294.8" r="6.6"/>
<circle cx="235.8" cy="353.8" r="6.6"/>
<circle cx="235.8" cy="382.1" r="6.6"/>
<circle cx="235.8" cy="411" r="6.6"/>
<circle cx="235.8" cy="443.5" r="6.6"/>
<circle cx="235.8" cy="470.8" r="6.6"/>
<circle cx="235.8" cy="499.4" r="6.6"/>
<circle cx="235.8" cy="517.2" r="6.6"/>
<circle cx="485" cy="337.2" r="6.6"/>
<circle cx="485" cy="400.1" r="6.6"/>
<circle cx="704" cy="294.2" r="6.6"/>
<circle cx="704" cy="323.4" r="6.6"/>
<circle cx="704" cy="352.6" r="6.6"/>
<circle cx="704" cy="404.9" r="6.6"/>
<circle cx="823" cy="294.8" r="6.6"/>
<circle cx="823" cy="337.2" r="6.6"/>
<circle cx="823" cy="386" r="6.6"/>
<circle cx="991" cy="294.5" r="6.6"/>
<circle cx="991" cy="323.4" r="6.6"/>
<circle cx="991" cy="353.5" r="6.6"/>
<circle cx="991" cy="413.4" r="6.6"/>
<circle cx="991" cy="473.2" r="6.6"/>
<circle cx="991" cy="533.7" r="6.6"/>
<circle cx="991" cy="593.9" r="6.6"/>
<circle cx="991" cy="648.4" r="6.6"/>
<circle cx="1088.2" cy="368.2" r="6.6"/>
<circle cx="1088.2" cy="412.5" r="6.6"/>
<circle cx="1088.2" cy="472.9" r="6.6"/>
<circle cx="1088.2" cy="533.7" r="6.6"/>
<circle cx="1088.2" cy="593.9" r="6.6"/>
<circle cx="1088.2" cy="654.7" r="6.6"/>
<circle cx="1088.2" cy="713.6" r="6.6"/>
</g>
<rect x="105.2" y="293.1" width="983.4" height="421.1" fill="none" stroke="#000" stroke-width="1.9"/>
</g>
<g transform="translate(1280.5,0)">
<rect x="1126.2" y="251.1" width="36.6" height="14.44" fill="#053061"/>
<rect x="1126.2" y="236.6" width="36.6" height="15.04" fill="#1b5a9b"/>
<rect x="1126.2" y="222.2" width="36.6" height="15.04" fill="#337eb8"/>
<rect x="1126.2" y="207.7" width="36.6" height="15.04" fill="#5ba2cb"/>
<rect x="1126.2" y="193.3" width="36.6" height="15.04" fill="#97c7df"/>
<rect x="1126.2" y="178.8" width="36.6" height="15.04" fill="#c7e0ed"/>
<rect x="1126.2" y="164.4" width="36.6" height="15.04" fill="#e8f0f4"/>
<rect x="1126.2" y="150" width="36.6" height="15.04" fill="#f9ece5"/>
<rect x="1126.2" y="135.5" width="36.6" height="15.04" fill="#fcd3bc"/>
<rect x="1126.2" y="121.1" width="36.6" height="15.04" fill="#f5a987"/>
<rect x="1126.2" y="106.6" width="36.6" height="15.04" fill="#df755d"/>
<rect x="1126.2" y="92.2" width="36.6" height="15.04" fill="#c53f3d"/>
<rect x="1126.2" y="77.7" width="36.6" height="15.04" fill="#a11228"/>
<rect x="1126.2" y="63.3" width="36.6" height="15.04" fill="#67001f"/>
<rect x="1126.2" y="63.3" width="36.6" height="202.2" fill="none" stroke="#000" stroke-width="1.9"/>
<line x1="1162.8" y1="265.5" x2="1181.5" y2="265.5" stroke="#000" stroke-width="1.9"/>
<line x1="1162.8" y1="251.1" x2="1181.5" y2="251.1" stroke="#000" stroke-width="1.9"/>
<line x1="1162.8" y1="236.6" x2="1181.5" y2="236.6" stroke="#000" stroke-width="1.9"/>
<line x1="1162.8" y1="222.2" x2="1181.5" y2="222.2" stroke="#000" stroke-width="1.9"/>
<line x1="1162.8" y1="207.7" x2="1181.5" y2="207.7" stroke="#000" stroke-width="1.9"/>
<line x1="1162.8" y1="193.3" x2="1181.5" y2="193.3" stroke="#000" stroke-width="1.9"/>
<line x1="1162.8" y1="178.8" x2="1181.5" y2="178.8" stroke="#000" stroke-width="1.9"/>
<line x1="1162.8" y1="164.4" x2="1181.5" y2="164.4" stroke="#000" stroke-width="1.9"/>
<line x1="1162.8" y1="150" x2="1181.5" y2="150" stroke="#000" stroke-width="1.9"/>
<line x1="1162.8" y1="135.5" x2="1181.5" y2="135.5" stroke="#000" stroke-width="1.9"/>
<line x1="1162.8" y1="121.1" x2="1181.5" y2="121.1" stroke="#000" stroke-width="1.9"/>
<line x1="1162.8" y1="106.6" x2="1181.5" y2="106.6" stroke="#000" stroke-width="1.9"/>
<line x1="1162.8" y1="92.2" x2="1181.5" y2="92.2" stroke="#000" stroke-width="1.9"/>
<line x1="1162.8" y1="77.7" x2="1181.5" y2="77.7" stroke="#000" stroke-width="1.9"/>
<line x1="1162.8" y1="63.3" x2="1181.5" y2="63.3" stroke="#000" stroke-width="1.9"/>
<text transform="translate(1219,265.5) rotate(-90)" font-size="32" text-anchor="middle">2300</text>
<text transform="translate(1219,164.4) rotate(-90)" font-size="32" text-anchor="middle">2335</text>
<text transform="translate(1219,63.3) rotate(-90)" font-size="32" text-anchor="middle">2370</text>
</g>
<g transform="translate(1280.5,0)">
<rect x="1126.2" y="684.2" width="36.6" height="30.08" fill="#053061"/>
<rect x="1126.2" y="654.1" width="36.6" height="30.68" fill="#1b5a9b"/>
<rect x="1126.2" y="624" width="36.6" height="30.68" fill="#337eb8"/>
<rect x="1126.2" y="593.9" width="36.6" height="30.68" fill="#5ba2cb"/>
<rect x="1126.2" y="563.8" width="36.6" height="30.68" fill="#97c7df"/>
<rect x="1126.2" y="533.8" width="36.6" height="30.68" fill="#c7e0ed"/>
<rect x="1126.2" y="503.7" width="36.6" height="30.68" fill="#e8f0f4"/>
<rect x="1126.2" y="473.6" width="36.6" height="30.68" fill="#f9ece5"/>
<rect x="1126.2" y="443.5" width="36.6" height="30.68" fill="#fcd3bc"/>
<rect x="1126.2" y="413.4" width="36.6" height="30.68" fill="#f5a987"/>
<rect x="1126.2" y="383.3" width="36.6" height="30.68" fill="#df755d"/>
<rect x="1126.2" y="353.3" width="36.6" height="30.68" fill="#c53f3d"/>
<rect x="1126.2" y="323.2" width="36.6" height="30.68" fill="#a11228"/>
<rect x="1126.2" y="293.1" width="36.6" height="30.68" fill="#67001f"/>
<rect x="1126.2" y="293.1" width="36.6" height="421.1" fill="none" stroke="#000" stroke-width="1.9"/>
<line x1="1162.8" y1="714.2" x2="1181.5" y2="714.2" stroke="#000" stroke-width="1.9"/>
<line x1="1162.8" y1="654.1" x2="1181.5" y2="654.1" stroke="#000" stroke-width="1.9"/>
<line x1="1162.8" y1="593.9" x2="1181.5" y2="593.9" stroke="#000" stroke-width="1.9"/>
<line x1="1162.8" y1="533.8" x2="1181.5" y2="533.8" stroke="#000" stroke-width="1.9"/>
<line x1="1162.8" y1="473.6" x2="1181.5" y2="473.6" stroke="#000" stroke-width="1.9"/>
<line x1="1162.8" y1="413.4" x2="1181.5" y2="413.4" stroke="#000" stroke-width="1.9"/>
<line x1="1162.8" y1="353.3" x2="1181.5" y2="353.3" stroke="#000" stroke-width="1.9"/>
<line x1="1162.8" y1="293.1" x2="1181.5" y2="293.1" stroke="#000" stroke-width="1.9"/>
<text transform="translate(1219,714.2) rotate(-90)" font-size="32" text-anchor="middle">2300</text>
<text transform="translate(1219,593.9) rotate(-90)" font-size="32" text-anchor="middle">2320</text>
<text transform="translate(1219,473.6) rotate(-90)" font-size="32" text-anchor="middle">2340</text>
<text transform="translate(1219,353.3) rotate(-90)" font-size="32" text-anchor="middle">2360</text>
</g>
<g transform="translate(1280.5,0)">
<g stroke="#000" stroke-width="1.9" fill="none">
<line x1="105.2" y1="44.4" x2="105.2" y2="63.3"/>
<line x1="235.8" y1="44.4" x2="235.8" y2="63.3"/>
<line x1="485" y1="44.4" x2="485" y2="63.3"/>
<line x1="704" y1="44.4" x2="704" y2="63.3"/>
<line x1="823" y1="44.4" x2="823" y2="63.3"/>
<line x1="991" y1="44.4" x2="991" y2="63.3"/>
<line x1="1088.2" y1="44.4" x2="1088.2" y2="63.3"/>
<line x1="86" y1="65.8" x2="105.2" y2="65.8"/>
<line x1="86" y1="115.6" x2="105.2" y2="115.6"/>
<line x1="86" y1="165.4" x2="105.2" y2="165.4"/>
<line x1="86" y1="215.1" x2="105.2" y2="215.1"/>
<line x1="86" y1="264.9" x2="105.2" y2="264.9"/>
<line x1="86" y1="293" x2="105.2" y2="293"/>
<line x1="86" y1="353.2" x2="105.2" y2="353.2"/>
<line x1="86" y1="413.4" x2="105.2" y2="413.4"/>
<line x1="86" y1="473.5" x2="105.2" y2="473.5"/>
<line x1="86" y1="533.7" x2="105.2" y2="533.7"/>
<line x1="86" y1="593.9" x2="105.2" y2="593.9"/>
<line x1="86" y1="654.1" x2="105.2" y2="654.1"/>
<line x1="86" y1="714.2" x2="105.2" y2="714.2"/>
<line x1="105.2" y1="714.2" x2="105.2" y2="733.6"/>
<line x1="285.6" y1="714.2" x2="285.6" y2="733.6"/>
<line x1="466" y1="714.2" x2="466" y2="733.6"/>
<line x1="646.5" y1="714.2" x2="646.5" y2="733.6"/>
<line x1="826.9" y1="714.2" x2="826.9" y2="733.6"/>
<line x1="1007.3" y1="714.2" x2="1007.3" y2="733.6"/>
</g>
<text transform="translate(72.4,65.8) rotate(-90)" font-size="32" text-anchor="middle">0</text>
<text transform="translate(72.4,165.4) rotate(-90)" font-size="32" text-anchor="middle">100</text>
<text transform="translate(72.4,264.9) rotate(-90)" font-size="32" text-anchor="middle">200</text>
<text transform="translate(72.4,353.2) rotate(-90)" font-size="32" text-anchor="middle">400</text>
<text transform="translate(72.4,473.5) rotate(-90)" font-size="32" text-anchor="middle">800</text>
<text transform="translate(72.4,593.9) rotate(-90)" font-size="32" text-anchor="middle">1200</text>
<text transform="translate(72.4,714.2) rotate(-90)" font-size="32" text-anchor="middle">1600</text>
<text x="105.2" y="769.7" font-size="32" text-anchor="middle">0</text>
<text x="285.6" y="769.7" font-size="32" text-anchor="middle">100</text>
<text x="466" y="769.7" font-size="32" text-anchor="middle">200</text>
<text x="646.5" y="769.7" font-size="32" text-anchor="middle">300</text>
<text x="826.9" y="769.7" font-size="32" text-anchor="middle">400</text>
<text x="1007.3" y="769.7" font-size="32" text-anchor="middle">500</text>
<text transform="translate(23.3,164.4) rotate(-90)" font-size="30.8" text-anchor="middle">Depth [m]</text>
<text transform="translate(23.3,503.7) rotate(-90)" font-size="30.8" text-anchor="middle">Depth [m]</text>
<text x="597.4" y="816.8" font-size="30.8" text-anchor="middle">Distance [km]</text>
<text x="130" y="687.3" font-size="54.4">B) TA [<tspan font-style="italic">μ</tspan>mol kg<tspan dy="-24" font-size="38">−1</tspan><tspan dy="24">&#8203;</tspan>]</text>
</g>
<!-- panel C -->
<g transform="translate(0,798)">
<clipPath id="c5"><rect x="105.2" y="71" width="983.4" height="194.5"/></clipPath>
<clipPath id="bc5"><rect x="105.2" y="63.3" width="983.4" height="202.2"/></clipPath>
<mask id="m5" maskUnits="userSpaceOnUse" x="0" y="0" width="1300" height="800"><rect x="0" y="0" width="1300" height="800" fill="#fff"/><rect x="250.8" y="66.1" width="89.1" height="23.2" fill="#000" transform="rotate(-3 295.4 77.7)"/><rect x="385.3" y="85" width="89.1" height="23.2" fill="#000" transform="rotate(2 429.8 96.6)"/><rect x="106.9" y="92.1" width="89.1" height="23.2" fill="#000" transform="rotate(2 151.5 103.7)"/><rect x="487.2" y="118" width="89.1" height="23.2" fill="#000" transform="rotate(-14 531.7 129.6)"/><rect x="289.7" y="141.7" width="89.1" height="23.2" fill="#000" transform="rotate(4 334.2 153.3)"/><rect x="487.2" y="163.1" width="89.1" height="23.2" fill="#000" transform="rotate(-13 531.7 174.7)"/><rect x="199.4" y="213.6" width="89.1" height="23.2" fill="#000" transform="rotate(-10 243.9 225.2)"/><rect x="574.9" y="210.4" width="89.1" height="23.2" fill="#000" transform="rotate(-3 619.4 222)"/><rect x="1009.7" y="121.1" width="89.1" height="23.2" fill="#000" transform="rotate(55 1054.3 132.7)"/></mask>
<g clip-path="url(#c5)">
<rect x="105.2" y="63.3" width="983.4" height="202.2" fill="#fcdecd"/>
<polygon points="105,123.3 105,123.3 113.2,123.6 121.4,123.8 129.6,124.1 137.8,124.4 146,124.7 154.2,125 162.3,125.3 170.5,125.8 178.7,126.2 186.9,126.7 195.1,127.2 203.3,127.7 211.5,128.2 219.7,128.8 227.9,129.5 236.1,130.1 244.3,130.9 252.4,131.8 260.6,132.7 268.8,133.6 277,134.4 285.2,135.3 293.4,135.9 301.6,136.5 309.8,137.1 318,137.7 326.2,138.3 334.4,138.9 342.6,139.5 350.8,140.1 358.9,140.8 367.1,141.4 375.3,142.1 383.5,142.8 391.7,143.4 399.9,144.1 408.1,144.7 416.3,145.4 424.5,146 432.7,146.7 440.9,147.3 449.1,148 457.2,148.6 465.4,149.2 473.6,149.8 481.8,150.4 490,149.6 498.2,147.9 506.4,146.3 514.6,144.7 522.8,143.1 531,141.5 539.2,139.8 547.4,137.9 555.5,135.9 563.7,133.9 571.9,132 580.1,129.9 588.3,127.9 596.5,125.8 604.7,123.7 612.9,121.6 621.1,119.5 629.3,117.3 637.5,115.2 645.6,113.1 653.8,111 662,108.9 670.2,106.7 678.4,104.6 686.6,102.5 694.8,100.4 703,98.2 711.2,98.6 719.4,99.4 727.6,100.3 735.8,101.1 744,103.1 752.1,105.3 760.3,107.8 768.5,111.1 776.7,113.2 784.9,114.2 793.1,115 801.3,114.1 809.5,109.3 817.7,105.5 825.9,102.5 834.1,96.7 842.2,91 850.4,85.3 858.6,79.5 866.8,73.7 875,67.9 883.2,62 891.4,56.2 899.6,46.7 907.8,42.9 916,35.2 924.2,25.9 932.4,18 940.5,7 948.7,-19.1 956.9,-39.3 965.1,-40.4 973.3,-41.6 981.5,-42.7 989.7,-43.8 997.9,-3.2 1006.1,33.4 1014.3,48.1 1022.5,59.3 1030.7,68.5 1038.8,76.4 1047,84.6 1055.2,98.6 1063.4,109.7 1071.6,119.3 1079.8,128.4 1088,136 1088,136 6000,136 6000,-3000 105,-3000" fill="#f9efe9"/>
<polygon points="105.3,115.9 105.3,115.9 236.6,118 289.1,121.2 352.1,126.4 415.1,132.7 473.9,139 484.9,140.1 576.9,119.1 590,115.9 653,99.1 704.5,84.4 772.8,80.2 791.7,75 800.1,70.1 815.1,45 900,-40 1046.5,45 1058.5,70.1 1073.2,86.5 1087.9,101.2 1087.9,101.2 6000,101.2 6000,-3000 105.3,-3000" fill="#ecf2f5"/>
<polygon points="105,109.1 105,109.1 113.2,109.3 121.4,109.5 129.6,109.6 137.8,109.8 146,110 154.2,110.2 162.3,110.4 170.5,110.6 178.7,110.8 186.9,110.9 195.1,111.1 203.3,111.3 211.5,111.4 219.7,111.6 227.9,111.8 236.1,111.9 244.3,112.2 252.4,112.6 260.6,112.9 268.8,113.2 277,113.7 285.2,114.1 293.4,114.5 301.6,115.1 309.8,115.6 318,116.1 326.2,116.6 334.4,117.1 342.6,117.6 350.8,118.2 358.9,118.8 367.1,119.4 375.3,120.1 383.5,120.7 391.7,121.4 399.9,122.1 408.1,122.7 416.3,123.4 424.5,124.1 432.7,124.7 440.9,125.4 449.1,126.1 457.2,126.8 465.4,127.5 473.6,128.2 481.8,128.8 490,127.9 498.2,125.9 506.4,124 514.6,122.1 522.8,120.1 531,118 539.2,115.8 547.4,113.6 555.5,111.5 563.7,109.2 571.9,106.7 580.1,104.2 588.3,101.6 596.5,98.9 604.7,96.7 612.9,94.8 621.1,92.9 629.3,90.7 637.5,88.4 645.6,86.2 653.8,82.5 662,77.3 670.2,72 678.4,66.7 686.6,61.5 694.8,58.1 703,56.1 711.2,54.7 719.4,53.6 727.6,52.5 735.8,51.3 744,50.2 752.1,49 760.3,47.9 768.5,46.7 776.7,45.2 784.9,43.1 793.1,40.9 801.3,37 809.5,29.2 817.7,22.4 825.9,17.4 834.1,12.4 842.2,7.4 850.4,2.4 858.6,-2.6 866.8,-7.6 875,-12.6 883.2,-17.6 891.4,-22.6 899.6,-27.6 907.8,-26.4 916,-24.9 924.2,-23.4 932.4,-21.9 940.5,-20.4 948.7,-19 956.9,-17.5 965.1,-16 973.3,-14.5 981.5,-13 989.7,-11.5 997.9,-10 1006.1,-8.6 1014.3,-7.1 1022.5,-5.6 1030.7,-4.1 1038.8,-2.6 1047,-0.7 1055.2,7 1063.4,12.2 1071.6,15.9 1079.8,19.2 1088,22.4 1088,22.4 6000,22.4 6000,-3000 105,-3000" fill="#d5e7f1"/>
<polygon points="105.3,102.3 105.3,102.3 198.7,105 268.1,106.5 352.1,110 415.1,113.8 484.9,118 520.2,109.6 562.2,97 600,82.3 621.5,78.1 649.9,70.1 689.9,30.1 1150,-70 1150,-70 6000,-70 6000,-3000 105.3,-3000" fill="#b3d6e8"/>
<polygon points="105,94.9 105,94.9 113.2,95.2 121.4,95.6 129.6,95.9 137.8,96.3 146,96.6 154.2,97 162.3,97.3 170.5,97.6 178.7,97.9 186.9,98.2 195.1,98.5 203.3,98.8 211.5,99 219.7,99.3 227.9,99.6 236.1,99.8 244.3,99.9 252.4,100 260.6,100.2 268.8,100.3 277,100.5 285.2,100.7 293.4,100.9 301.6,101.1 309.8,101.3 318,101.5 326.2,101.7 334.4,101.9 342.6,102.1 350.8,102.3 358.9,102.6 367.1,102.9 375.3,103.1 383.5,103.4 391.7,103.8 399.9,104.1 408.1,104.4 416.3,104.8 424.5,105.1 432.7,105.5 440.9,105.8 449.1,106.1 457.2,106.5 465.4,106.8 473.6,107.2 481.8,107.8 490,106.1 498.2,103 506.4,99.6 514.6,96.2 522.8,92.8 531,89.3 539.2,84.9 547.4,79.6 555.5,74.2 563.7,68.8 571.9,63.2 580.1,59.7 588.3,57.4 596.5,55.2 604.7,53.4 612.9,52 621.1,50.5 629.3,48.8 637.5,47 645.6,45.2 653.8,42 662,37.2 670.2,32.5 678.4,27.7 686.6,23 694.8,20.2 703,18.7 711.2,17.1 719.4,15.6 727.6,14.1 735.8,12.5 744,11 752.1,9.5 760.3,7.9 768.5,6.4 776.7,4.9 784.9,3.3 793.1,1.8 801.3,0.3 809.5,-1.3 817.7,-2.8 825.9,-4.3 834.1,-5.9 842.2,-7.4 850.4,-8.9 858.6,-10.5 866.8,-12 875,-13.5 883.2,-15.1 891.4,-16.6 899.6,-18.1 907.8,-19.7 916,-21.2 924.2,-22.7 932.4,-24.3 940.5,-25.8 948.7,-27.3 956.9,-28.9 965.1,-30.4 973.3,-31.9 981.5,-33.5 989.7,-35 997.9,-36.5 1006.1,-38.1 1014.3,-39.6 1022.5,-41.1 1030.7,-42.7 1038.8,-44.2 1047,-45.7 1055.2,-47.3 1063.4,-48.8 1071.6,-50.3 1079.8,-51.9 1088,-53.4 1088,-53.4 6000,-53.4 6000,-3000 105,-3000" fill="#8dc2dc"/>
<polygon points="105.3,87.6 105.3,87.6 163,90.7 236.6,93.9 310.1,94.3 383.6,94.9 476.1,97 484.9,98.1 499.2,90.7 520.2,78.1 534.9,70.1 574.9,30.1 1150,-60 1150,-60 6000,-60 6000,-3000 105.3,-3000" fill="#5fa5cd"/>
<polygon points="105,80.2 105,80.2 113.2,80.7 121.4,81.2 129.6,81.8 137.8,82.3 146,82.8 154.2,83.3 162.3,83.8 170.5,84.3 178.7,84.7 186.9,85.1 195.1,85.5 203.3,85.9 211.5,86.3 219.7,86.7 227.9,86.7 236.1,86.7 244.3,86.6 252.4,86.5 260.6,86.4 268.8,86.2 277,86.1 285.2,86 293.4,85.8 301.6,85.7 309.8,85.6 318,85.4 326.2,85.3 334.4,85.2 342.6,85 350.8,84.6 358.9,84.1 367.1,83.6 375.3,83.2 383.5,82.7 391.7,80.1 399.9,76.1 408.1,72.1 416.3,68.1 424.5,64.1 432.7,62.6 440.9,62.1 449.1,61.6 457.2,61 465.4,60.5 473.6,60 481.8,59.7 490,58 498.2,55.2 506.4,52.2 514.6,49.1 522.8,46.1 531,43.3 539.2,39.4 547.4,34.7 555.5,30 563.7,25.3 571.9,20.5 580.1,18 588.3,16.8 596.5,15.5 604.7,14.2 612.9,13 621.1,11.7 629.3,10.4 637.5,9.2 645.6,7.9 653.8,6.7 662,5.4 670.2,4.1 678.4,2.9 686.6,1.6 694.8,0.3 703,-0.9 711.2,-2.2 719.4,-3.5 727.6,-4.7 735.8,-6 744,-7.3 752.1,-8.5 760.3,-9.8 768.5,-11.1 776.7,-12.3 784.9,-13.6 793.1,-14.9 801.3,-16.1 809.5,-17.4 817.7,-18.7 825.9,-19.9 834.1,-21.2 842.2,-22.5 850.4,-23.7 858.6,-25 866.8,-26.3 875,-27.5 883.2,-28.8 891.4,-30 899.6,-31.3 907.8,-32.6 916,-33.8 924.2,-35.1 932.4,-36.4 940.5,-37.6 948.7,-38.9 956.9,-40.2 965.1,-41.4 973.3,-42.7 981.5,-44 989.7,-45.2 997.9,-46.5 1006.1,-47.8 1014.3,-49 1022.5,-50.3 1030.7,-51.6 1038.8,-52.8 1047,-54.1 1055.2,-55.4 1063.4,-56.6 1071.6,-57.9 1079.8,-59.2 1088,-60.4 1088,-60.4 6000,-60.4 6000,-3000 105,-3000" fill="#3b88be"/>
<polygon points="105.3,72.9 105.3,72.9 163,77.1 219.7,80.2 249.2,79.2 341.6,75.6 386.8,70.1 426.8,30.1 1150,-80 1150,-80 6000,-80 6000,-3000 105.3,-3000" fill="#276eb0"/>
<polygon points="93.3,130 105.3,130.6 163,133.8 205,138 236.6,142.2 287,150 381.5,155.8 436.1,159 484.9,161.1 541.2,151.6 590,139 653,123.3 704.5,111.3 737.1,120.1 758.1,132.7 772.8,145.3 823.6,171.6 863.1,155.8 892.5,143.2 911.4,115.9 919.8,88.6 927.2,70.1 939.2,40 955,-70 990,-100 1004.4,40 1014.4,70.1 1025.9,94.9 1054.3,132.7 1083.7,168.4 1087.9,170.5 1098.6,175.9 6000,175.9 6000,3000 -3000,3000 -3000,130" fill="#f9c2a7"/>
<polygon points="93,137.7 105,138.5 113.2,139.1 121.4,139.6 129.6,140.2 137.8,140.8 146,141.6 154.2,142.6 162.3,143.7 170.5,144.9 178.7,146.6 186.9,148.7 195.1,150.8 203.3,154.1 211.5,157.5 219.7,160.4 227.9,162.8 236.1,165.3 244.3,165.8 252.4,166.3 260.6,166.8 268.8,167.3 277,167.8 285.2,168.3 293.4,168.6 301.6,168.7 309.8,168.8 318,169 326.2,169.1 334.4,169.2 342.6,169.3 350.8,169.5 358.9,169.6 367.1,169.7 375.3,169.8 383.5,169.9 391.7,170 399.9,170.2 408.1,170.4 416.3,170.5 424.5,170.7 432.7,170.9 440.9,171 449.1,171.1 457.2,171.2 465.4,171.3 473.6,171.4 481.8,171.6 490,170.7 498.2,169.3 506.4,167.8 514.6,166.4 522.8,165 531,163.5 539.2,162.1 547.4,160.4 555.5,158.6 563.7,156.8 571.9,155 580.1,153.3 588.3,151.9 596.5,150.1 604.7,148.1 612.9,146.1 621.1,144.1 629.3,142.1 637.5,140.2 645.6,138.2 653.8,136.2 662,134.3 670.2,132.5 678.4,130.6 686.6,128.7 694.8,126.9 703,125 711.2,126.7 719.4,129.3 727.6,131.9 735.8,134.4 744,139 752.1,143.9 760.3,149.1 768.5,155.1 776.7,160.4 784.9,164.8 793.1,169.3 801.3,173.7 809.5,178.1 817.7,182.6 825.9,185 834.1,182.2 842.2,179.5 850.4,176.7 858.6,173.9 866.8,171.1 875,168.2 883.2,165.3 891.4,161.8 899.6,154.7 907.8,147 916,135.1 924.2,121.6 932.4,109.5 940.5,94 948.7,62.8 956.9,37.4 965.1,31.2 973.3,25.1 981.5,19 989.7,12.9 997.9,53.4 1006.1,91.3 1014.3,107.5 1022.5,120.5 1030.7,131.4 1038.8,141 1047,150.4 1055.2,159.6 1063.4,168.4 1071.6,177.2 1079.8,186.7 1088,194.8 1096.5,203.2 6000,203.2 6000,3000 -3000,3000 -3000,137.7" fill="#f2a17f"/>
<polygon points="93.3,145.4 105.3,146.4 142,149.5 173.5,155.8 194.5,164.2 215.5,178.9 235.9,188.4 310.1,186.3 394.1,183.6 484.9,182.1 576.9,165.3 590,164.2 653,149.5 704.5,138 737.1,149.5 779.1,174.7 823.6,200 884.1,183.2 936.6,160 968.2,139 991.7,124.3 1010.2,141.1 1041.7,172.6 1073.2,202.1 1087.9,218.9 1095.8,227.9 6000,227.9 6000,3000 -3000,3000 -3000,145.4" fill="#e17860"/>
<polygon points="93.1,153.1 105,154.3 113.2,155.1 121.4,155.9 129.6,159.6 137.8,169.2 146,175.6 154.2,180 162.3,183.6 170.5,186.7 178.7,189.6 186.9,192.8 195.1,196.2 203.3,199.2 211.5,201.9 219.7,204.1 227.9,205.8 236.1,207.5 244.3,207.1 252.4,206.6 260.6,206.1 268.8,205.5 277,205 285.2,204.5 293.4,204 301.6,203.5 309.8,203 318,202.5 326.2,202 334.4,201.4 342.6,200.9 350.8,200.4 358.9,199.9 367.1,199.3 375.3,198.8 383.5,198.2 391.7,197.7 399.9,197.2 408.1,196.7 416.3,196.3 424.5,195.8 432.7,195.3 440.9,194.8 449.1,194.3 457.2,193.8 465.4,193.3 473.6,192.8 481.8,192.3 490,191.3 498.2,190.1 506.4,188.9 514.6,187.7 522.8,186.5 531,185.3 539.2,184.1 547.4,182.7 555.5,181.2 563.7,179.8 571.9,178.3 580.1,177 588.3,176 596.5,174.4 604.7,172.6 612.9,170.8 621.1,169.1 629.3,167.3 637.5,165.5 645.6,163.7 653.8,162 662,160.2 670.2,158.5 678.4,156.7 686.6,154.9 694.8,153.2 703,151.4 711.2,154 719.4,157.6 727.6,161.1 735.8,164.7 744,169.1 752.1,174.2 760.3,179.5 768.5,184.8 776.7,190 784.9,194.5 793.1,198.7 801.3,202.8 809.5,207 817.7,211.1 825.9,213.6 834.1,211.7 842.2,209.8 850.4,207.9 858.6,205.9 866.8,204 875,202.1 883.2,200.2 891.4,197.3 899.6,194.2 907.8,191.2 916,188.2 924.2,185.1 932.4,182.1 940.5,178.6 948.7,174.6 956.9,170.1 965.1,165.6 973.3,161.3 981.5,157 989.7,152.7 997.9,157.4 1006.1,165 1014.3,172.7 1022.5,180.8 1030.7,189.3 1038.8,197.7 1047,206 1055.2,214.4 1063.4,223 1071.6,231.6 1079.8,241.1 1088,250.8 1095.8,259.9 6000,259.9 6000,3000 -3000,3000 -3000,153.1" fill="#ce4f45"/>
<polygon points="93.3,160.7 105.3,162.1 123.1,164.2 131.5,172.6 137.8,189.5 148.3,204.2 167.2,216.8 196.6,228.3 242.9,226.2 291.2,221.4 352.1,215.7 415.1,209.4 484.9,202.1 541.2,195.8 590,187.4 653,174.7 704.5,164.2 745.5,185.3 779.1,208.4 823.6,228.3 884.1,216.8 947.1,197.9 991.7,178.9 1020.7,206.3 1052.2,239.9 1073.2,264.5 1081,273.6 1081,3000 -3000,3000 -3000,160.7" fill="#b82531"/>
<polygon points="299.3,269.7 310.1,264.5 352.1,244.1 394.1,229.4 484.9,218.9 600,206.3 653,192.6 704.5,182.1 732.9,197.9 779.1,229.4 823.6,242 884.1,233.6 947.1,216.8 991.7,206.3 1010.2,223.1 1031.2,244.1 1045.9,264.5 1052.9,274.2" fill="#930e26"/>
<polygon points="598.6,268.8 587.4,264.5 562.2,254.6 543.3,242 572.7,223.1 619.4,221 665.6,219.9 690.8,218.9 704.5,216.3 713.9,229.4 737.1,239.9 779.1,250.4 823.6,256.3 884.1,250.4 947.1,240.9 991.7,232.5 1003.9,244.1 1014.4,264.5 1019.9,275.1" fill="#67001f"/>
</g>
<g clip-path="url(#c5)"><g mask="url(#m5)" fill="none" stroke="#000" stroke-width="1.9" stroke-linejoin="round">
<polyline points="105.3,115.9 105.3,115.9 236.6,118 289.1,121.2 352.1,126.4 415.1,132.7 473.9,139 484.9,140.1 576.9,119.1 590,115.9 653,99.1 704.5,84.4 772.8,80.2 791.7,75 800.1,70.1 815.1,45 900,-40 1046.5,45 1058.5,70.1 1073.2,86.5 1087.9,101.2 1087.9,101.2"/>
<polyline points="105.3,102.3 105.3,102.3 198.7,105 268.1,106.5 352.1,110 415.1,113.8 484.9,118 520.2,109.6 562.2,97 600,82.3 621.5,78.1 649.9,70.1 689.9,30.1 1150,-70 1150,-70"/>
<polyline points="105.3,87.6 105.3,87.6 163,90.7 236.6,93.9 310.1,94.3 383.6,94.9 476.1,97 484.9,98.1 499.2,90.7 520.2,78.1 534.9,70.1 574.9,30.1 1150,-60 1150,-60"/>
<polyline points="105.3,72.9 105.3,72.9 163,77.1 219.7,80.2 249.2,79.2 341.6,75.6 386.8,70.1 426.8,30.1 1150,-80 1150,-80"/>
<polyline points="93.3,130 105.3,130.6 163,133.8 205,138 236.6,142.2 287,150 381.5,155.8 436.1,159 484.9,161.1 541.2,151.6 590,139 653,123.3 704.5,111.3 737.1,120.1 758.1,132.7 772.8,145.3 823.6,171.6 863.1,155.8 892.5,143.2 911.4,115.9 919.8,88.6 927.2,70.1 939.2,40 955,-70 990,-100 1004.4,40 1014.4,70.1 1025.9,94.9 1054.3,132.7 1083.7,168.4 1087.9,170.5 1098.6,175.9"/>
<polyline points="93.3,145.4 105.3,146.4 142,149.5 173.5,155.8 194.5,164.2 215.5,178.9 235.9,188.4 310.1,186.3 394.1,183.6 484.9,182.1 576.9,165.3 590,164.2 653,149.5 704.5,138 737.1,149.5 779.1,174.7 823.6,200 884.1,183.2 936.6,160 968.2,139 991.7,124.3 1010.2,141.1 1041.7,172.6 1073.2,202.1 1087.9,218.9 1095.8,227.9"/>
<polyline points="93.3,160.7 105.3,162.1 123.1,164.2 131.5,172.6 137.8,189.5 148.3,204.2 167.2,216.8 196.6,228.3 242.9,226.2 291.2,221.4 352.1,215.7 415.1,209.4 484.9,202.1 541.2,195.8 590,187.4 653,174.7 704.5,164.2 745.5,185.3 779.1,208.4 823.6,228.3 884.1,216.8 947.1,197.9 991.7,178.9 1020.7,206.3 1052.2,239.9 1073.2,264.5 1081,273.6"/>
<polyline points="598.6,268.8 587.4,264.5 562.2,254.6 543.3,242 572.7,223.1 619.4,221 665.6,219.9 690.8,218.9 704.5,216.3 713.9,229.4 737.1,239.9 779.1,250.4 823.6,256.3 884.1,250.4 947.1,240.9 991.7,232.5 1003.9,244.1 1014.4,264.5 1019.9,275.1"/>
</g></g>
<g clip-path="url(#bc5)">
<text x="296.3" y="77.7" transform="rotate(-3 295.4 77.7)" font-size="25.8" letter-spacing="1.9" text-anchor="middle" dominant-baseline="central" class="cl">2120</text>
<text x="430.8" y="96.6" transform="rotate(2 429.8 96.6)" font-size="25.8" letter-spacing="1.9" text-anchor="middle" dominant-baseline="central" class="cl">2140</text>
<text x="152.4" y="103.7" transform="rotate(2 151.5 103.7)" font-size="25.8" letter-spacing="1.9" text-anchor="middle" dominant-baseline="central" class="cl">2160</text>
<text x="532.7" y="129.6" transform="rotate(-14 531.7 129.6)" font-size="25.8" letter-spacing="1.9" text-anchor="middle" dominant-baseline="central" class="cl">2180</text>
<text x="335.2" y="153.3" transform="rotate(4 334.2 153.3)" font-size="25.8" letter-spacing="1.9" text-anchor="middle" dominant-baseline="central" class="cl">2200</text>
<text x="532.7" y="174.7" transform="rotate(-13 531.7 174.7)" font-size="25.8" letter-spacing="1.9" text-anchor="middle" dominant-baseline="central" class="cl">2220</text>
<text x="244.9" y="225.2" transform="rotate(-10 243.9 225.2)" font-size="25.8" letter-spacing="1.9" text-anchor="middle" dominant-baseline="central" class="cl">2240</text>
<text x="620.4" y="222" transform="rotate(-3 619.4 222)" font-size="25.8" letter-spacing="1.9" text-anchor="middle" dominant-baseline="central" class="cl">2260</text>
<text x="1055.2" y="132.7" transform="rotate(55 1054.3 132.7)" font-size="25.8" letter-spacing="1.9" text-anchor="middle" dominant-baseline="central" class="cl">2200</text>
</g>
<g clip-path="url(#bc5)" fill="none" stroke="#f00" stroke-width="1.9">
<circle cx="105.2" cy="69.4" r="6.6"/>
<circle cx="105.2" cy="165.4" r="6.6"/>
<circle cx="235.8" cy="69.4" r="6.6"/>
<circle cx="235.8" cy="125.5" r="6.6"/>
<circle cx="235.8" cy="266.4" r="6.6"/>
<circle cx="485" cy="69.4" r="6.6"/>
<circle cx="485" cy="95.7" r="6.6"/>
<circle cx="485" cy="225.1" r="6.6"/>
<circle cx="704" cy="69.4" r="6.6"/>
<circle cx="704" cy="185.3" r="6.6"/>
<circle cx="704" cy="245" r="6.6"/>
<circle cx="823" cy="69.4" r="6.6"/>
<circle cx="823" cy="145.4" r="6.6"/>
<circle cx="823" cy="266.4" r="6.6"/>
<circle cx="991" cy="69.4" r="6.6"/>
<circle cx="991" cy="115.6" r="6.6"/>
<circle cx="991" cy="266.4" r="6.6"/>
<circle cx="1088.2" cy="69.4" r="6.6"/>
<circle cx="1088.2" cy="215.1" r="6.6"/>
</g>
<rect x="105.2" y="63.3" width="983.4" height="202.2" fill="none" stroke="#000" stroke-width="1.9"/>
</g>
<g transform="translate(0,798)">
<clipPath id="c6"><polygon points="105.2,293 1088.5,293 1088.5,677.2 991.7,648.2 991.7,411 824,380.8 485,382 236,411 236,499.3 105.2,503.5"/></clipPath>
<clipPath id="bc6"><rect x="105.2" y="293.1" width="983.4" height="421.1"/></clipPath>
<mask id="m6" maskUnits="userSpaceOnUse" x="0" y="0" width="1300" height="800"><rect x="0" y="0" width="1300" height="800" fill="#fff"/><rect x="237.2" y="318.6" width="89.1" height="23.2" fill="#000" transform="rotate(8 281.7 330.2)"/><rect x="612.7" y="307" width="89.1" height="23.2" fill="#000" transform="rotate(0 657.2 318.6)"/><rect x="824.9" y="307" width="89.1" height="23.2" fill="#000" transform="rotate(2 869.4 318.6)"/></mask>
<g clip-path="url(#c6)">
<rect x="105.2" y="293.1" width="983.4" height="421.1" fill="#930e26"/>
<polygon points="171.5,287.5 181.9,293.4 234.5,322.8 329,336.1 415.1,348 484.9,358.1 520.2,369 560.1,382.1 571.5,385.8 571.5,3000 -3000,3000 -3000,-3000 171.5,-3000" fill="#b82531"/>
<polygon points="590.7,292.2 602.6,293.4 704.5,303.9 824.7,313.4 915.6,320.7 947.8,321.8 991.6,331.7 996.5,318.6 1010.1,295.1 1016.1,284.7" fill="#67001f"/>
<polygon points="1032.3,283.1 1032.7,295.1 1033.6,321.3 1089.1,348.4 1099.9,353.7 6000,353.7 6000,-3000 1032.3,-3000" fill="#b82531"/>
<polygon points="1049.6,285.1 1056.2,295.1 1073.3,321.3 1089.1,332.2 1099,339 6000,339 6000,-3000 1049.6,-3000" fill="#ce4f45"/>
<polygon points="1069,285.4 1076,295.1 1089.1,313.2 1096.2,322.9 6000,322.9 6000,-3000 1069,-3000" fill="#e17860"/>
<polygon points="1075.7,285.8 1083.3,295.1 1089.1,302.4 1096.7,311.7 6000,311.7 6000,-3000 1075.7,-3000" fill="#f2a17f"/>
<polygon points="979,625.9 991,624.8 1055.7,619 1087,602.2 1097.6,596.5 6000,596.5 6000,3000 979,3000" fill="#67001f"/>
</g>
<g clip-path="url(#c6)"><g mask="url(#m6)" fill="none" stroke="#000" stroke-width="1.9" stroke-linejoin="round">
<polyline points="171.5,287.5 181.9,293.4 234.5,322.8 329,336.1 415.1,348 484.9,358.1 520.2,369 560.1,382.1 571.5,385.8"/>
<polyline points="353,291 364.7,293.4 415.1,303.9 484.9,318.6 600,317.6 611,318.6 613,318.6"/>
<polyline points="703.5,318.2 704.5,318.2 824.7,337.5 917.7,352.2 921.5,377.4 919.8,383.7 916.7,395.3"/>
<polyline points="590.7,292.2 602.6,293.4 704.5,303.9 824.7,313.4 826.2,313.5"/>
<polyline points="914.6,320.6 915.6,320.7 947.8,321.8 991.6,331.7 996.5,318.6 1010.1,295.1 1016.1,284.7"/>
<polyline points="688,291.6 700,292 880,298.7 991.6,309.6 1000.1,295.1 1006.3,284.8"/>
<polyline points="788,291.6 800,292 880,295 991.6,302.4 996.5,295.1 1003.3,285.2"/>
<polyline points="1024.2,283.6 1020.9,295.1 1013.7,320.4 1029.1,352 1089.1,370.1 1100.6,373.6"/>
<polyline points="1032.3,283.1 1032.7,295.1 1033.6,321.3 1089.1,348.4 1099.9,353.7"/>
<polyline points="1040.5,283.8 1044.4,295.1 1053.4,321.3 1089.1,341.2 1099.6,347"/>
<polyline points="1049.6,285.1 1056.2,295.1 1073.3,321.3 1089.1,332.2 1099,339"/>
<polyline points="1058.2,286.1 1066.1,295.1 1089.1,321.3 1097,330.3"/>
<polyline points="1069,285.4 1076,295.1 1089.1,313.2 1096.2,322.9"/>
<polyline points="1075.7,285.8 1083.3,295.1 1089.1,302.4 1096.7,311.7"/>
<polyline points="979,625.9 991,624.8 1055.7,619 1087,602.2 1097.6,596.5"/>
</g></g>
<g clip-path="url(#bc6)"><g mask="url(#m6)" fill="none" stroke="#000" stroke-width="1.9">
<polyline points="235.9,426.8 213.4,440.9 235.9,457.7"/>
<polyline points="105.3,503.5 199.8,508.7"/>
<polyline points="673,382.1 704.5,366.9 728.7,382.1"/>
<polyline points="816.9,378.5 823.6,370.1 833.7,382.7"/>
<polyline points="920.9,382.7 913.5,398.4"/>
</g></g>
<g clip-path="url(#bc6)">
<text x="282.7" y="330.2" transform="rotate(8 281.7 330.2)" font-size="25.8" letter-spacing="1.9" text-anchor="middle" dominant-baseline="central" class="cl">2250</text>
<text x="658.2" y="318.6" transform="rotate(0 657.2 318.6)" font-size="25.8" letter-spacing="1.9" text-anchor="middle" dominant-baseline="central" class="cl">2255</text>
<text x="870.4" y="318.6" transform="rotate(2 869.4 318.6)" font-size="25.8" letter-spacing="1.9" text-anchor="middle" dominant-baseline="central" class="cl">2260</text>
</g>
<g clip-path="url(#bc6)"><polygon points="85.2,572.8 105.2,569.8 235.8,533.7 485,401.3 704,410.4 823,377.3 965.8,714.2 971.2,729.3 1138.6,764.2 55.2,764.2" fill="#c2c2c2"/><polyline points="85.2,572.8 105.2,569.8 235.8,533.7 485,401.3 704,410.4 823,377.3 965.8,714.2 971.2,729.3" fill="none" stroke="#000" stroke-width="1.9" stroke-linejoin="round"/></g>
<g clip-path="url(#bc6)" fill="none" stroke="#f00" stroke-width="1.9">
<circle cx="105.2" cy="353.8" r="6.6"/>
<circle cx="105.2" cy="382.7" r="6.6"/>
<circle cx="105.2" cy="413.4" r="6.6"/>
<circle cx="105.2" cy="443.5" r="6.6"/>
<circle cx="105.2" cy="472.9" r="6.6"/>
<circle cx="105.2" cy="502.4" r="6.6"/>
<circle cx="105.2" cy="534" r="6.6"/>
<circle cx="105.2" cy="553.6" r="6.6"/>
<circle cx="235.8" cy="294.8" r="6.6"/>
<circle cx="235.8" cy="353.8" r="6.6"/>
<circle cx="235.8" cy="382.1" r="6.6"/>
<circle cx="235.8" cy="411" r="6.6"/>
<circle cx="235.8" cy="443.5" r="6.6"/>
<circle cx="235.8" cy="470.8" r="6.6"/>
<circle cx="235.8" cy="499.4" r="6.6"/>
<circle cx="235.8" cy="517.2" r="6.6"/>
<circle cx="485" cy="337.2" r="6.6"/>
<circle cx="485" cy="400.1" r="6.6"/>
<circle cx="704" cy="294.2" r="6.6"/>
<circle cx="704" cy="323.4" r="6.6"/>
<circle cx="704" cy="352.6" r="6.6"/>
<circle cx="704" cy="404.9" r="6.6"/>
<circle cx="823" cy="294.8" r="6.6"/>
<circle cx="823" cy="337.2" r="6.6"/>
<circle cx="823" cy="386" r="6.6"/>
<circle cx="991" cy="294.5" r="6.6"/>
<circle cx="991" cy="323.4" r="6.6"/>
<circle cx="991" cy="353.5" r="6.6"/>
<circle cx="991" cy="413.4" r="6.6"/>
<circle cx="991" cy="473.2" r="6.6"/>
<circle cx="991" cy="533.7" r="6.6"/>
<circle cx="991" cy="593.9" r="6.6"/>
<circle cx="991" cy="648.4" r="6.6"/>
<circle cx="1088.2" cy="368.2" r="6.6"/>
<circle cx="1088.2" cy="412.5" r="6.6"/>
<circle cx="1088.2" cy="472.9" r="6.6"/>
<circle cx="1088.2" cy="533.7" r="6.6"/>
<circle cx="1088.2" cy="593.9" r="6.6"/>
<circle cx="1088.2" cy="654.7" r="6.6"/>
<circle cx="1088.2" cy="713.6" r="6.6"/>
</g>
<rect x="105.2" y="293.1" width="983.4" height="421.1" fill="none" stroke="#000" stroke-width="1.9"/>
</g>
<g transform="translate(0,798)">
<rect x="1126.2" y="254.3" width="36.6" height="11.23" fill="#053061"/>
<rect x="1126.2" y="243" width="36.6" height="11.83" fill="#15508d"/>
<rect x="1126.2" y="231.8" width="36.6" height="11.83" fill="#276eb0"/>
<rect x="1126.2" y="220.6" width="36.6" height="11.83" fill="#3b88be"/>
<rect x="1126.2" y="209.3" width="36.6" height="11.83" fill="#5fa5cd"/>
<rect x="1126.2" y="198.1" width="36.6" height="11.83" fill="#8dc2dc"/>
<rect x="1126.2" y="186.9" width="36.6" height="11.83" fill="#b3d6e8"/>
<rect x="1126.2" y="175.6" width="36.6" height="11.83" fill="#d5e7f1"/>
<rect x="1126.2" y="164.4" width="36.6" height="11.83" fill="#ecf2f5"/>
<rect x="1126.2" y="153.2" width="36.6" height="11.83" fill="#f9efe9"/>
<rect x="1126.2" y="141.9" width="36.6" height="11.83" fill="#fcdecd"/>
<rect x="1126.2" y="130.7" width="36.6" height="11.83" fill="#f9c2a7"/>
<rect x="1126.2" y="119.5" width="36.6" height="11.83" fill="#f2a17f"/>
<rect x="1126.2" y="108.2" width="36.6" height="11.83" fill="#e17860"/>
<rect x="1126.2" y="97" width="36.6" height="11.83" fill="#ce4f45"/>
<rect x="1126.2" y="85.8" width="36.6" height="11.83" fill="#b82531"/>
<rect x="1126.2" y="74.5" width="36.6" height="11.83" fill="#930e26"/>
<rect x="1126.2" y="63.3" width="36.6" height="11.83" fill="#67001f"/>
<rect x="1126.2" y="63.3" width="36.6" height="202.2" fill="none" stroke="#000" stroke-width="1.9"/>
<line x1="1162.8" y1="254.3" x2="1181.5" y2="254.3" stroke="#000" stroke-width="1.9"/>
<line x1="1162.8" y1="231.8" x2="1181.5" y2="231.8" stroke="#000" stroke-width="1.9"/>
<line x1="1162.8" y1="209.3" x2="1181.5" y2="209.3" stroke="#000" stroke-width="1.9"/>
<line x1="1162.8" y1="186.9" x2="1181.5" y2="186.9" stroke="#000" stroke-width="1.9"/>
<line x1="1162.8" y1="164.4" x2="1181.5" y2="164.4" stroke="#000" stroke-width="1.9"/>
<line x1="1162.8" y1="141.9" x2="1181.5" y2="141.9" stroke="#000" stroke-width="1.9"/>
<line x1="1162.8" y1="119.5" x2="1181.5" y2="119.5" stroke="#000" stroke-width="1.9"/>
<line x1="1162.8" y1="97" x2="1181.5" y2="97" stroke="#000" stroke-width="1.9"/>
<line x1="1162.8" y1="74.5" x2="1181.5" y2="74.5" stroke="#000" stroke-width="1.9"/>
<text transform="translate(1219,254.3) rotate(-90)" font-size="32" text-anchor="middle">2100</text>
<text transform="translate(1219,141.9) rotate(-90)" font-size="32" text-anchor="middle">2200</text>
</g>
<g transform="translate(0,798)">
<rect x="1126.2" y="690.9" width="36.6" height="23.40" fill="#053061"/>
<rect x="1126.2" y="667.5" width="36.6" height="24.00" fill="#15508d"/>
<rect x="1126.2" y="644.1" width="36.6" height="24.00" fill="#276eb0"/>
<rect x="1126.2" y="620.7" width="36.6" height="24.00" fill="#3b88be"/>
<rect x="1126.2" y="597.3" width="36.6" height="24.00" fill="#5fa5cd"/>
<rect x="1126.2" y="573.9" width="36.6" height="24.00" fill="#8dc2dc"/>
<rect x="1126.2" y="550.5" width="36.6" height="24.00" fill="#b3d6e8"/>
<rect x="1126.2" y="527.1" width="36.6" height="24.00" fill="#d5e7f1"/>
<rect x="1126.2" y="503.7" width="36.6" height="24.00" fill="#ecf2f5"/>
<rect x="1126.2" y="480.3" width="36.6" height="24.00" fill="#f9efe9"/>
<rect x="1126.2" y="456.9" width="36.6" height="24.00" fill="#fcdecd"/>
<rect x="1126.2" y="433.5" width="36.6" height="24.00" fill="#f9c2a7"/>
<rect x="1126.2" y="410.1" width="36.6" height="24.00" fill="#f2a17f"/>
<rect x="1126.2" y="386.7" width="36.6" height="24.00" fill="#e17860"/>
<rect x="1126.2" y="363.3" width="36.6" height="24.00" fill="#ce4f45"/>
<rect x="1126.2" y="339.9" width="36.6" height="24.00" fill="#b82531"/>
<rect x="1126.2" y="316.5" width="36.6" height="24.00" fill="#930e26"/>
<rect x="1126.2" y="293.1" width="36.6" height="24.00" fill="#67001f"/>
<rect x="1126.2" y="293.1" width="36.6" height="421.1" fill="none" stroke="#000" stroke-width="1.9"/>
<line x1="1162.8" y1="690.9" x2="1181.5" y2="690.9" stroke="#000" stroke-width="1.9"/>
<line x1="1162.8" y1="644.1" x2="1181.5" y2="644.1" stroke="#000" stroke-width="1.9"/>
<line x1="1162.8" y1="597.3" x2="1181.5" y2="597.3" stroke="#000" stroke-width="1.9"/>
<line x1="1162.8" y1="550.5" x2="1181.5" y2="550.5" stroke="#000" stroke-width="1.9"/>
<line x1="1162.8" y1="503.7" x2="1181.5" y2="503.7" stroke="#000" stroke-width="1.9"/>
<line x1="1162.8" y1="456.9" x2="1181.5" y2="456.9" stroke="#000" stroke-width="1.9"/>
<line x1="1162.8" y1="410.1" x2="1181.5" y2="410.1" stroke="#000" stroke-width="1.9"/>
<line x1="1162.8" y1="363.3" x2="1181.5" y2="363.3" stroke="#000" stroke-width="1.9"/>
<line x1="1162.8" y1="316.5" x2="1181.5" y2="316.5" stroke="#000" stroke-width="1.9"/>
<text transform="translate(1219,690.9) rotate(-90)" font-size="32" text-anchor="middle">2100</text>
<text transform="translate(1219,550.5) rotate(-90)" font-size="32" text-anchor="middle">2160</text>
<text transform="translate(1219,410.1) rotate(-90)" font-size="32" text-anchor="middle">2220</text>
</g>
<g transform="translate(0,798)">
<g stroke="#000" stroke-width="1.9" fill="none">
<line x1="105.2" y1="44.4" x2="105.2" y2="63.3"/>
<line x1="235.8" y1="44.4" x2="235.8" y2="63.3"/>
<line x1="485" y1="44.4" x2="485" y2="63.3"/>
<line x1="704" y1="44.4" x2="704" y2="63.3"/>
<line x1="823" y1="44.4" x2="823" y2="63.3"/>
<line x1="991" y1="44.4" x2="991" y2="63.3"/>
<line x1="1088.2" y1="44.4" x2="1088.2" y2="63.3"/>
<line x1="86" y1="65.8" x2="105.2" y2="65.8"/>
<line x1="86" y1="115.6" x2="105.2" y2="115.6"/>
<line x1="86" y1="165.4" x2="105.2" y2="165.4"/>
<line x1="86" y1="215.1" x2="105.2" y2="215.1"/>
<line x1="86" y1="264.9" x2="105.2" y2="264.9"/>
<line x1="86" y1="293" x2="105.2" y2="293"/>
<line x1="86" y1="353.2" x2="105.2" y2="353.2"/>
<line x1="86" y1="413.4" x2="105.2" y2="413.4"/>
<line x1="86" y1="473.5" x2="105.2" y2="473.5"/>
<line x1="86" y1="533.7" x2="105.2" y2="533.7"/>
<line x1="86" y1="593.9" x2="105.2" y2="593.9"/>
<line x1="86" y1="654.1" x2="105.2" y2="654.1"/>
<line x1="86" y1="714.2" x2="105.2" y2="714.2"/>
<line x1="105.2" y1="714.2" x2="105.2" y2="733.6"/>
<line x1="285.6" y1="714.2" x2="285.6" y2="733.6"/>
<line x1="466" y1="714.2" x2="466" y2="733.6"/>
<line x1="646.5" y1="714.2" x2="646.5" y2="733.6"/>
<line x1="826.9" y1="714.2" x2="826.9" y2="733.6"/>
<line x1="1007.3" y1="714.2" x2="1007.3" y2="733.6"/>
</g>
<text transform="translate(72.4,65.8) rotate(-90)" font-size="32" text-anchor="middle">0</text>
<text transform="translate(72.4,165.4) rotate(-90)" font-size="32" text-anchor="middle">100</text>
<text transform="translate(72.4,264.9) rotate(-90)" font-size="32" text-anchor="middle">200</text>
<text transform="translate(72.4,353.2) rotate(-90)" font-size="32" text-anchor="middle">400</text>
<text transform="translate(72.4,473.5) rotate(-90)" font-size="32" text-anchor="middle">800</text>
<text transform="translate(72.4,593.9) rotate(-90)" font-size="32" text-anchor="middle">1200</text>
<text transform="translate(72.4,714.2) rotate(-90)" font-size="32" text-anchor="middle">1600</text>
<text x="105.2" y="769.7" font-size="32" text-anchor="middle">0</text>
<text x="285.6" y="769.7" font-size="32" text-anchor="middle">100</text>
<text x="466" y="769.7" font-size="32" text-anchor="middle">200</text>
<text x="646.5" y="769.7" font-size="32" text-anchor="middle">300</text>
<text x="826.9" y="769.7" font-size="32" text-anchor="middle">400</text>
<text x="1007.3" y="769.7" font-size="32" text-anchor="middle">500</text>
<text transform="translate(23.3,164.4) rotate(-90)" font-size="30.8" text-anchor="middle">Depth [m]</text>
<text transform="translate(23.3,503.7) rotate(-90)" font-size="30.8" text-anchor="middle">Depth [m]</text>
<text x="597.4" y="816.8" font-size="30.8" text-anchor="middle">Distance [km]</text>
<text x="130" y="687.3" font-size="54.4">C) TCO<tspan dy="9.5" font-size="38">2</tspan><tspan dy="-9.5">&#8203;</tspan> [<tspan font-style="italic">μ</tspan>mol kg<tspan dy="-24" font-size="38">−1</tspan><tspan dy="24">&#8203;</tspan>]</text>
</g>
<!-- panel D -->
<g transform="translate(1280.5,798)">
<clipPath id="c7"><rect x="105.2" y="71" width="983.4" height="194.5"/></clipPath>
<clipPath id="bc7"><rect x="105.2" y="63.3" width="983.4" height="202.2"/></clipPath>
<mask id="m7" maskUnits="userSpaceOnUse" x="0" y="0" width="1300" height="800"><rect x="0" y="0" width="1300" height="800" fill="#fff"/><rect x="193.8" y="85.4" width="40.3" height="23.2" fill="#000" transform="rotate(-3 214 97)"/><rect x="309.3" y="92.8" width="65.7" height="23.2" fill="#000" transform="rotate(-8 342.1 104.4)"/><rect x="637.6" y="88.6" width="65.7" height="23.2" fill="#000" transform="rotate(-12 670.4 100.2)"/><rect x="402.8" y="184.1" width="65.7" height="23.2" fill="#000" transform="rotate(-5 435.6 195.8)"/><rect x="237.9" y="246.1" width="65.7" height="23.2" fill="#000" transform="rotate(-3 270.7 257.7)"/><rect x="815.4" y="234.6" width="81.9" height="23.2" fill="#000" transform="rotate(-2 856.3 246.2)"/><rect x="89.8" y="215.7" width="65.7" height="23.2" fill="#000" transform="rotate(62 122.6 227.3)"/><rect x="671.2" y="243" width="65.7" height="23.2" fill="#000" transform="rotate(25 704 254.6)"/></mask>
<g clip-path="url(#c7)">
<rect x="105.2" y="63.3" width="983.4" height="202.2" fill="#67001f"/>
<polygon points="83,74.2 95,74.2 103,74.2 111,74.2 119,74.2 127,74.2 135,74.1 143,74.1 151,74 159,74 167,74 175,73.9 183,73.9 191,73.9 199,73.8 207,73.8 215,73.7 223,73.7 231,73.7 239,73.1 247,71.5 255,69.9 263,68.3 271,66.7 279,65.1 287,63.5 295,61.9 303,60.2 311,58.6 319,56.9 327,55.3 335,53.6 343,51.9 351,50.1 359,48.4 367,46.6 375,45.1 383,43.7 391,42.3 399,41 407,39.6 415,38.2 423,36.8 431,35.4 439,34.1 447,32.7 455,31.3 463,29.9 471,28.6 479,27.2 487,25.8 495,24.4 503,23 511,21.7 519,20.3 527,18.9 535,17.5 543,16.1 551,14.8 559,13.4 567,12 575,10.6 583,9.3 591,7.9 599,6.5 607,5.1 615,3.7 623,2.4 631,1 639,-0.4 647,-1.8 655,-3.1 663,-4.5 671,-5.9 679,-7.3 687,-8.7 695,-10 703,-11.4 711,-12.8 719,-14.2 727,-15.5 735,-16.9 743,-18.3 751,-19.7 759,-21.1 767,-22.4 775,-23.8 783,-25.2 791,-26.3 799,-27.4 807,-28.5 815,-29.6 823,-30.7 831,-31.8 839,-32.9 847,-34 855,-35.1 863,-36.2 871,-37.3 879,-38.4 887,-39.5 895,-40.6 903,-41.7 911,-42.8 919,-43.9 927,-45 935,-46.1 943,-47.2 951,-48.3 959,-49.4 967,-50.5 975,-51.6 983,-52.7 991,-53.9 999,-55 1007,-56.1 1015,-57.2 1023,-58.3 1031,-59.4 1039,-60.5 1047,-61.6 1055,-62.7 1063,-63.8 1071,-64.9 1079,-66 1087,-67.1 1095,-68.2 1103,-69.3 1111,-70.4 1119,-71.5 1127,-72.6 1135,-73.7 1143,-74.8 1151,-75.8 1162.9,-77.2 6000,-77.2 6000,3000 -3000,3000 -3000,74.2" fill="#850a24"/>
<polygon points="83,78 95,78 103,78 111,77.9 119,77.8 127,77.8 135,77.7 143,77.6 151,77.5 159,77.5 167,77.4 175,77.3 183,77.2 191,77.2 199,77.1 207,77 215,76.9 223,76.9 231,76.8 239,76.2 247,74.7 255,73.2 263,71.7 271,70.1 279,68.6 287,67.1 295,65.5 303,63.9 311,62.3 319,60.7 327,59.1 335,57.4 343,55.6 351,53.8 359,51.9 367,50.1 375,48.5 383,47 391,45.5 399,44 407,42.5 415,41 423,39.5 431,38 439,36.5 447,35 455,33.5 463,32 471,30.5 479,29 487,27.5 495,26 503,24.5 511,23 519,21.5 527,20 535,18.5 543,17 551,15.5 559,14 567,12.5 575,11 583,9.5 591,8 599,6.5 607,5 615,3.5 623,2 631,0.5 639,-1 647,-2.5 655,-4 663,-5.5 671,-7 679,-8.5 687,-10 695,-11.5 703,-13 711,-14.5 719,-16 727,-17.5 735,-19 743,-20.5 751,-22 759,-23.5 767,-25 775,-26.5 783,-28 791,-29 799,-29.9 807,-30.9 815,-31.8 823,-32.8 831,-33.7 839,-34.7 847,-35.6 855,-36.6 863,-37.5 871,-38.5 879,-39.4 887,-40.3 895,-41.3 903,-42.2 911,-43.2 919,-44.1 927,-45.1 935,-46 943,-47 951,-47.9 959,-48.9 967,-49.8 975,-50.8 983,-51.7 991,-52.7 999,-53.6 1007,-54.6 1015,-55.5 1023,-56.5 1031,-57.4 1039,-58.4 1047,-59.3 1055,-60.2 1063,-61.2 1071,-62.1 1079,-63.1 1087,-64 1095,-65 1103,-65.9 1111,-66.9 1119,-67.8 1127,-68.8 1135,-69.7 1143,-70.7 1151,-71.5 1162.9,-72.7 6000,-72.7 6000,3000 -3000,3000 -3000,78" fill="#a31329"/>
<polygon points="83,81.7 95,81.7 103,81.7 111,81.6 119,81.5 127,81.4 135,81.3 143,81.1 151,81 159,80.9 167,80.8 175,80.7 183,80.6 191,80.5 199,80.4 207,80.3 215,80.1 223,80 231,79.9 239,79.3 247,77.9 255,76.5 263,75 271,73.6 279,72.2 287,70.7 295,69.2 303,67.6 311,66 319,64.5 327,62.9 335,61.2 343,59.3 351,57.4 359,55.5 367,53.6 375,51.9 383,50.3 391,48.6 399,47 407,45.4 415,43.8 423,42.2 431,40.5 439,38.9 447,37.3 455,35.7 463,34 471,32.4 479,30.8 487,29.2 495,27.6 503,25.9 511,24.3 519,22.7 527,21.1 535,19.4 543,17.8 551,16.2 559,14.6 567,13 575,11.3 583,9.7 591,8.1 599,6.5 607,4.8 615,3.2 623,1.6 631,-0 639,-1.6 647,-3.3 655,-4.9 663,-6.5 671,-8.1 679,-9.8 687,-11.4 695,-13 703,-14.6 711,-16.2 719,-17.9 727,-19.5 735,-21.1 743,-22.7 751,-24.3 759,-26 767,-27.6 775,-29.2 783,-30.8 791,-31.7 799,-32.4 807,-33.2 815,-34 823,-34.8 831,-35.6 839,-36.4 847,-37.2 855,-38 863,-38.8 871,-39.6 879,-40.4 887,-41.2 895,-42 903,-42.8 911,-43.6 919,-44.3 927,-45.1 935,-45.9 943,-46.7 951,-47.5 959,-48.3 967,-49.1 975,-49.9 983,-50.7 991,-51.5 999,-52.3 1007,-53.1 1015,-53.9 1023,-54.7 1031,-55.5 1039,-56.2 1047,-57 1055,-57.8 1063,-58.6 1071,-59.4 1079,-60.2 1087,-61 1095,-61.8 1103,-62.6 1111,-63.4 1119,-64.2 1127,-65 1135,-65.8 1143,-66.6 1151,-67.2 1163,-68.3 6000,-68.3 6000,3000 -3000,3000 -3000,81.7" fill="#b92632"/>
<polygon points="83,85.4 95,85.4 103,85.4 111,85.3 119,85.1 127,85 135,84.8 143,84.7 151,84.5 159,84.4 167,84.2 175,84.1 183,83.9 191,83.8 199,83.6 207,83.5 215,83.3 223,83.2 231,83 239,82.4 247,81.1 255,79.7 263,78.4 271,77 279,75.7 287,74.3 295,72.8 303,71.3 311,69.8 319,68.2 327,66.7 335,64.9 343,63 351,61 359,59.1 367,57.1 375,55.3 383,53.5 391,51.8 399,50 407,48.3 415,46.6 423,44.8 431,43.1 439,41.3 447,39.6 455,37.8 463,36.1 471,34.4 479,32.6 487,30.9 495,29.1 503,27.4 511,25.6 519,23.9 527,22.1 535,20.4 543,18.7 551,16.9 559,15.2 567,13.4 575,11.7 583,9.9 591,8.2 599,6.5 607,4.7 615,3 623,1.2 631,-0.5 639,-2.3 647,-4 655,-5.8 663,-7.5 671,-9.2 679,-11 687,-12.7 695,-14.5 703,-16.2 711,-18 719,-19.7 727,-21.4 735,-23.2 743,-24.9 751,-26.7 759,-28.4 767,-30.2 775,-31.9 783,-33.7 791,-34.3 799,-35 807,-35.6 815,-36.2 823,-36.9 831,-37.5 839,-38.2 847,-38.8 855,-39.4 863,-40.1 871,-40.7 879,-41.4 887,-42 895,-42.6 903,-43.3 911,-43.9 919,-44.5 927,-45.2 935,-45.8 943,-46.5 951,-47.1 959,-47.7 967,-48.4 975,-49 983,-49.7 991,-50.3 999,-50.9 1007,-51.6 1015,-52.2 1023,-52.9 1031,-53.5 1039,-54.1 1047,-54.8 1055,-55.4 1063,-56.1 1071,-56.7 1079,-57.3 1087,-58 1095,-58.6 1103,-59.2 1111,-59.9 1119,-60.5 1127,-61.2 1135,-61.8 1143,-62.4 1151,-63 1163,-63.8 6000,-63.8 6000,3000 -3000,3000 -3000,85.4" fill="#c8433f"/>
<polygon points="83,89.1 95,89.1 103,89.1 111,88.9 119,88.8 127,88.6 135,88.4 143,88.2 151,88 159,87.8 167,87.7 175,87.5 183,87.3 191,87.1 199,86.9 207,86.7 215,86.5 223,86.4 231,86.2 239,85.6 247,84.3 255,83 263,81.8 271,80.5 279,79.2 287,78 295,76.5 303,75 311,73.5 319,72 327,70.5 335,68.7 343,66.7 351,64.7 359,62.6 367,60.6 375,58.7 383,56.8 391,54.9 399,53.1 407,51.2 415,49.4 423,47.5 431,45.6 439,43.8 447,41.9 455,40 463,38.2 471,36.3 479,34.4 487,32.6 495,30.7 503,28.8 511,27 519,25.1 527,23.2 535,21.4 543,19.5 551,17.6 559,15.8 567,13.9 575,12 583,10.2 591,8.3 599,6.4 607,4.6 615,2.7 623,0.8 631,-1 639,-2.9 647,-4.8 655,-6.6 663,-8.5 671,-10.4 679,-12.2 687,-14.1 695,-16 703,-17.8 711,-19.7 719,-21.5 727,-23.4 735,-25.3 743,-27.1 751,-29 759,-30.9 767,-32.7 775,-34.6 783,-36.5 791,-37 799,-37.5 807,-38 815,-38.5 823,-38.9 831,-39.4 839,-39.9 847,-40.4 855,-40.9 863,-41.4 871,-41.8 879,-42.3 887,-42.8 895,-43.3 903,-43.8 911,-44.3 919,-44.8 927,-45.2 935,-45.7 943,-46.2 951,-46.7 959,-47.2 967,-47.7 975,-48.1 983,-48.6 991,-49.1 999,-49.6 1007,-50.1 1015,-50.6 1023,-51.1 1031,-51.5 1039,-52 1047,-52.5 1055,-53 1063,-53.5 1071,-54 1079,-54.4 1087,-54.9 1095,-55.4 1103,-55.9 1111,-56.4 1119,-56.9 1127,-57.4 1135,-57.8 1143,-58.3 1151,-58.8 1163,-59.4 6000,-59.4 6000,3000 -3000,3000 -3000,89.1" fill="#d6604d"/>
<polygon points="83,92.8 95,92.8 103,92.8 111,92.6 119,92.4 127,92.2 135,92 143,91.7 151,91.5 159,91.3 167,91.1 175,90.9 183,90.6 191,90.4 199,90.2 207,90 215,89.7 223,89.5 231,89.3 239,88.7 247,87.5 255,86.3 263,85.1 271,84 279,82.8 287,81.6 295,80.2 303,78.7 311,77.2 319,75.8 327,74.3 335,72.5 343,70.4 351,68.3 359,66.2 367,64.1 375,62.1 383,60.1 391,58.1 399,56.1 407,54.1 415,52.1 423,50.2 431,48.2 439,46.2 447,44.2 455,42.2 463,40.2 471,38.2 479,36.2 487,34.2 495,32.3 503,30.3 511,28.3 519,26.3 527,24.3 535,22.3 543,20.3 551,18.3 559,16.4 567,14.4 575,12.4 583,10.4 591,8.4 599,6.4 607,4.4 615,2.4 623,0.5 631,-1.5 639,-3.5 647,-5.5 655,-7.5 663,-9.5 671,-11.5 679,-13.5 687,-15.4 695,-17.4 703,-19.4 711,-21.4 719,-23.4 727,-25.4 735,-27.4 743,-29.4 751,-31.3 759,-33.3 767,-35.3 775,-37.3 783,-39.3 791,-39.7 799,-40 807,-40.3 815,-40.7 823,-41 831,-41.3 839,-41.7 847,-42 855,-42.3 863,-42.6 871,-43 879,-43.3 887,-43.6 895,-44 903,-44.3 911,-44.6 919,-45 927,-45.3 935,-45.6 943,-46 951,-46.3 959,-46.6 967,-46.9 975,-47.3 983,-47.6 991,-47.9 999,-48.3 1007,-48.6 1015,-48.9 1023,-49.3 1031,-49.6 1039,-49.9 1047,-50.2 1055,-50.6 1063,-50.9 1071,-51.2 1079,-51.6 1087,-51.9 1095,-52.2 1103,-52.6 1111,-52.9 1119,-53.2 1127,-53.6 1135,-53.9 1143,-54.2 1151,-54.5 1163,-54.9 6000,-54.9 6000,3000 -3000,3000 -3000,92.8" fill="#e27c62"/>
<polygon points="83,96.5 95,96.5 103,96.5 111,96.3 119,96 127,95.8 135,95.5 143,95.3 151,95 159,94.8 167,94.5 175,94.2 183,94 191,93.7 199,93.5 207,93.2 215,92.9 223,92.7 231,92.4 239,91.8 247,90.7 255,89.6 263,88.5 271,87.4 279,86.3 287,85.2 295,83.8 303,82.4 311,81 319,79.5 327,78.1 335,76.3 343,74.1 351,71.9 359,69.8 367,67.6 375,65.5 383,63.4 391,61.3 399,59.1 407,57 415,54.9 423,52.8 431,50.7 439,48.6 447,46.5 455,44.4 463,42.3 471,40.2 479,38 487,35.9 495,33.8 503,31.7 511,29.6 519,27.5 527,25.4 535,23.3 543,21.2 551,19.1 559,17 567,14.8 575,12.7 583,10.6 591,8.5 599,6.4 607,4.3 615,2.2 623,0.1 631,-2 639,-4.1 647,-6.3 655,-8.4 663,-10.5 671,-12.6 679,-14.7 687,-16.8 695,-18.9 703,-21 711,-23.1 719,-25.2 727,-27.3 735,-29.5 743,-31.6 751,-33.7 759,-35.8 767,-37.9 775,-40 783,-42.1 791,-42.3 799,-42.5 807,-42.7 815,-42.9 823,-43.1 831,-43.2 839,-43.4 847,-43.6 855,-43.8 863,-43.9 871,-44.1 879,-44.3 887,-44.5 895,-44.6 903,-44.8 911,-45 919,-45.2 927,-45.3 935,-45.5 943,-45.7 951,-45.9 959,-46 967,-46.2 975,-46.4 983,-46.6 991,-46.7 999,-46.9 1007,-47.1 1015,-47.3 1023,-47.5 1031,-47.6 1039,-47.8 1047,-48 1055,-48.2 1063,-48.3 1071,-48.5 1079,-48.7 1087,-48.9 1095,-49 1103,-49.2 1111,-49.4 1119,-49.6 1127,-49.7 1135,-49.9 1143,-50.1 1151,-50.2 1163,-50.5 6000,-50.5 6000,3000 -3000,3000 -3000,96.5" fill="#ee9777"/>
<polygon points="105.4,100.2 105.4,100.2 191.9,97 236.1,95.3 288.6,88.6 330.6,81.3 370.5,70.1 783.2,-45 1150,-46 1150,-46 6000,-46 6000,3000 -3000,3000 -3000,100.2" fill="#f6b090"/>
<polygon points="83,104.1 95,104.1 103,104.1 111,103.9 119,103.7 127,103.4 135,103.2 143,103 151,102.7 159,102.5 167,102.2 175,102 183,101.7 191,101.4 199,101.1 207,100.8 215,100.5 223,100.2 231,99.9 239,99.3 247,98.4 255,97.5 263,96.5 271,95.6 279,94.6 287,93.7 295,92.5 303,91.3 311,90 319,88.8 327,87.5 335,86 343,84.1 351,82.2 359,80.3 367,78.5 375,76.6 383,74.5 391,72.4 399,70.2 407,68.1 415,65.9 423,63.6 431,61.3 439,58.9 447,56.1 455,53.3 463,50.5 471,47.6 479,44.8 487,42 495,39.1 503,36.3 511,33.5 519,30.6 527,27.8 535,25 543,22.1 551,19.3 559,16.5 567,13.6 575,10.8 583,8 591,5.1 599,2.3 607,-0.5 615,-3.4 623,-6.2 631,-9 639,-11.9 647,-14.7 655,-16.9 663,-18.6 671,-20.3 679,-22 687,-23.6 695,-25.3 703,-27 711,-28.7 719,-30.3 727,-32 735,-33.7 743,-35.4 751,-37.1 759,-38.7 767,-40.4 775,-42.1 783,-43.8 791,-43.8 799,-43.9 807,-43.9 815,-43.9 823,-43.9 831,-43.9 839,-44 847,-44 855,-44 863,-44 871,-44 879,-44.1 887,-44.1 895,-44.1 903,-44.1 911,-44.1 919,-44.2 927,-44.2 935,-44.2 943,-44.2 951,-44.2 959,-44.3 967,-44.3 975,-44.3 983,-44.3 991,-44.3 999,-44.4 1007,-44.4 1015,-44.4 1023,-44.4 1031,-44.4 1039,-44.5 1047,-44.5 1055,-44.5 1063,-44.5 1071,-44.5 1079,-44.6 1087,-44.6 1095,-44.6 1103,-44.6 1111,-44.7 1119,-44.7 1127,-44.7 1135,-44.7 1143,-44.7 1151,-44.8 1163,-44.8 6000,-44.8 6000,3000 -3000,3000 -3000,104.1" fill="#f9c5ab"/>
<polygon points="83,108 95,108 103,108 111,107.9 119,107.7 127,107.5 135,107.3 143,107.1 151,106.9 159,106.7 167,106.5 175,106.3 183,106.1 191,105.8 199,105.5 207,105.2 215,104.9 223,104.6 231,104.3 239,103.7 247,102.9 255,102 263,101.1 271,100.3 279,99.4 287,98.5 295,97.5 303,96.5 311,95.4 319,94.3 327,93.2 335,91.9 343,90.4 351,88.8 359,87.3 367,85.8 375,84.3 383,82.4 391,80.3 399,78.3 407,76.2 415,74.2 423,71.7 431,69.3 439,66.8 447,63.5 455,60 463,56.6 471,53.2 479,49.7 487,46.3 495,42.9 503,39.4 511,36 519,32.6 527,29.1 535,25.7 543,22.2 551,18.8 559,15.4 567,11.9 575,8.5 583,5.1 591,1.6 599,-1.8 607,-5.2 615,-8.7 623,-12.1 631,-15.6 639,-19 647,-22.4 655,-24.6 663,-25.7 671,-26.9 679,-28 687,-29.1 695,-30.2 703,-31.4 711,-32.5 719,-33.6 727,-34.7 735,-35.9 743,-37 751,-38.1 759,-39.2 767,-40.4 775,-41.5 783,-42.6 791,-42.7 799,-42.7 807,-42.7 815,-42.7 823,-42.7 831,-42.7 839,-42.8 847,-42.8 855,-42.8 863,-42.8 871,-42.8 879,-42.9 887,-42.9 895,-42.9 903,-42.9 911,-42.9 919,-43 927,-43 935,-43 943,-43 951,-43 959,-43 967,-43.1 975,-43.1 983,-43.1 991,-43.1 999,-43.1 1007,-43.2 1015,-43.2 1023,-43.2 1031,-43.2 1039,-43.2 1047,-43.3 1055,-43.3 1063,-43.3 1071,-43.3 1079,-43.3 1087,-43.4 1095,-43.4 1103,-43.4 1111,-43.4 1119,-43.4 1127,-43.4 1135,-43.5 1143,-43.5 1151,-43.5 1163,-43.5 6000,-43.5 6000,3000 -3000,3000 -3000,108" fill="#fddbc7"/>
<polygon points="83,112 95,112 103,112 111,111.9 119,111.7 127,111.6 135,111.4 143,111.3 151,111.1 159,111 167,110.8 175,110.6 183,110.5 191,110.2 199,109.9 207,109.6 215,109.2 223,108.9 231,108.6 239,108.1 247,107.3 255,106.6 263,105.8 271,105 279,104.2 287,103.4 295,102.6 303,101.7 311,100.8 319,99.8 327,98.9 335,97.8 343,96.6 351,95.5 359,94.3 367,93.2 375,92 383,90.2 391,88.3 399,86.3 407,84.4 415,82.4 423,79.8 431,77.3 439,74.7 447,70.8 455,66.8 463,62.7 471,58.7 479,54.7 487,50.6 495,46.6 503,42.5 511,38.5 519,34.5 527,30.4 535,26.4 543,22.4 551,18.3 559,14.3 567,10.2 575,6.2 583,2.2 591,-1.9 599,-5.9 607,-9.9 615,-14 623,-18 631,-22.1 639,-26.1 647,-30.1 655,-32.3 663,-32.9 671,-33.5 679,-34 687,-34.6 695,-35.2 703,-35.7 711,-36.3 719,-36.9 727,-37.4 735,-38 743,-38.6 751,-39.2 759,-39.7 767,-40.3 775,-40.9 783,-41.4 791,-41.5 799,-41.5 807,-41.5 815,-41.5 823,-41.5 831,-41.6 839,-41.6 847,-41.6 855,-41.6 863,-41.6 871,-41.6 879,-41.7 887,-41.7 895,-41.7 903,-41.7 911,-41.7 919,-41.7 927,-41.8 935,-41.8 943,-41.8 951,-41.8 959,-41.8 967,-41.9 975,-41.9 983,-41.9 991,-41.9 999,-41.9 1007,-41.9 1015,-42 1023,-42 1031,-42 1039,-42 1047,-42 1055,-42 1063,-42.1 1071,-42.1 1079,-42.1 1087,-42.1 1095,-42.1 1103,-42.1 1111,-42.2 1119,-42.2 1127,-42.2 1135,-42.2 1143,-42.2 1151,-42.2 1163,-42.3 6000,-42.3 6000,3000 -3000,3000 -3000,112" fill="#fbe6da"/>
<polygon points="105.4,115.9 105.4,115.9 183.5,114.9 236.1,112.8 307.5,106.5 376.8,99.5 414.6,90.7 439.8,82.3 460.8,70.1 650.7,-40 1150,-41 1150,-41 6000,-41 6000,3000 -3000,3000 -3000,115.9" fill="#f8f1ed"/>
<polygon points="83,120.4 95,120.4 103,120.4 111,120.4 119,120.4 127,120.4 135,120.4 143,120.4 151,120.3 159,120.3 167,120.4 175,120.5 183,120.5 191,120.4 199,120.4 207,120.3 215,120.2 223,120.3 231,120.5 239,120.4 247,119.7 255,119.1 263,118.4 271,117.7 279,117 287,116.4 295,115.7 303,115 311,114.3 319,113.6 327,112.8 335,112.1 343,111.3 351,110.6 359,109.8 367,109.1 375,108.3 383,107 391,105.4 399,103.8 407,102.3 415,100.7 423,98.5 431,96.4 439,94.2 447,90.7 455,87.1 463,83.4 471,79.8 479,76.2 487,72.5 495,68.8 503,65 511,61.3 519,57.5 527,53.8 535,50 543,46.3 551,42.5 559,38.7 567,34.9 575,31.2 583,27.4 591,23.6 599,19.8 607,16.1 615,12.3 623,8.6 631,4.8 639,1.1 647,-2.7 655,-4.6 663,-4.9 671,-5.2 679,-5.4 687,-5.7 695,-6 703,-6.3 711,-6.9 719,-7.5 727,-8.1 735,-8.8 743,-9.8 751,-11 759,-12.5 767,-14 775,-15.6 783,-17.1 791,-18.6 799,-20.2 807,-21.7 815,-23.2 823,-24.8 831,-26.3 839,-27.8 847,-29.4 855,-30.9 863,-32.4 871,-34 879,-35.5 887,-37 895,-38.5 903,-39.1 911,-39.2 919,-39.2 927,-39.2 935,-39.2 943,-39.2 951,-39.3 959,-39.3 967,-39.3 975,-39.3 983,-39.3 991,-39.4 999,-39.4 1007,-39.4 1015,-39.4 1023,-39.4 1031,-39.5 1039,-39.5 1047,-39.5 1055,-39.5 1063,-39.5 1071,-39.6 1079,-39.6 1087,-39.6 1095,-39.6 1103,-39.6 1111,-39.7 1119,-39.7 1127,-39.7 1135,-39.7 1143,-39.7 1151,-39.8 1163,-39.8 6000,-39.8 6000,3000 -3000,3000 -3000,120.4" fill="#eff3f6"/>
<polygon points="83,124.9 95,124.9 103,124.9 111,124.9 119,125 127,125.1 135,125.2 143,125.3 151,125.4 159,125.5 167,125.7 175,125.9 183,126.2 191,126.3 199,126.5 207,126.6 215,126.8 223,127.3 231,128.1 239,128.3 247,127.7 255,127 263,126.4 271,125.7 279,125.1 287,124.5 295,123.8 303,123.2 311,122.5 319,121.8 327,121.1 335,120.4 343,119.7 351,119 359,118.3 367,117.6 375,116.9 383,115.8 391,114.6 399,113.3 407,112.1 415,110.8 423,109.1 431,107.5 439,105.8 447,103.3 455,100.7 463,98 471,95.4 479,92.7 487,90 495,87.2 503,84.3 511,81.5 519,78.6 527,75.8 535,72.9 543,70.1 551,67.2 559,64.2 567,61.3 575,58.4 583,55.5 591,52.6 599,49.6 607,46.8 615,43.9 623,41.1 631,38.2 639,35.4 647,32.5 655,30.8 663,30.3 671,29.7 679,29.2 687,28.6 695,28 703,27.5 711,26.4 719,25.2 727,24 735,22.5 743,20.5 751,18.3 759,15.2 767,12.2 775,9.1 783,6.1 791,3 799,-0 807,-3.1 815,-6.1 823,-9.2 831,-12.2 839,-15.3 847,-18.3 855,-21.4 863,-24.4 871,-27.5 879,-30.5 887,-33.6 895,-36.6 903,-37.8 911,-37.8 919,-37.8 927,-37.8 935,-37.9 943,-37.9 951,-37.9 959,-37.9 967,-38 975,-38 983,-38 991,-38 999,-38 1007,-38.1 1015,-38.1 1023,-38.1 1031,-38.1 1039,-38.2 1047,-38.2 1055,-38.2 1063,-38.2 1071,-38.3 1079,-38.3 1087,-38.3 1095,-38.3 1103,-38.4 1111,-38.4 1119,-38.4 1127,-38.4 1135,-38.5 1143,-38.5 1151,-38.5 1163,-38.5 6000,-38.5 6000,3000 -3000,3000 -3000,124.9" fill="#e0ecf3"/>
<polygon points="83,129.3 95,129.3 103,129.3 111,129.5 119,129.6 127,129.8 135,130 143,130.2 151,130.4 159,130.6 167,130.9 175,131.4 183,131.8 191,132.2 199,132.6 207,133 215,133.3 223,134.4 231,135.6 239,136.2 247,135.6 255,135 263,134.4 271,133.8 279,133.2 287,132.6 295,131.9 303,131.3 311,130.7 319,130.1 327,129.4 335,128.8 343,128.1 351,127.5 359,126.8 367,126.2 375,125.5 383,124.7 391,123.8 399,122.8 407,121.9 415,120.9 423,119.8 431,118.6 439,117.5 447,115.9 455,114.2 463,112.6 471,110.9 479,109.3 487,107.6 495,105.6 503,103.7 511,101.7 519,99.8 527,97.8 535,95.9 543,93.9 551,91.8 559,89.8 567,87.7 575,85.6 583,83.6 591,81.5 599,79.5 607,77.5 615,75.5 623,73.6 631,71.6 639,69.6 647,67.6 655,66.3 663,65.4 671,64.6 679,63.8 687,62.9 695,62.1 703,61.3 711,59.6 719,57.8 727,56 735,53.9 743,50.8 751,47.5 759,42.9 767,38.4 775,33.8 783,29.2 791,24.7 799,20.1 807,15.5 815,11 823,6.4 831,1.8 839,-2.7 847,-7.3 855,-11.8 863,-16.4 871,-21 879,-25.5 887,-30.1 895,-34.7 903,-36.4 911,-36.4 919,-36.4 927,-36.5 935,-36.5 943,-36.5 951,-36.6 959,-36.6 967,-36.6 975,-36.6 983,-36.7 991,-36.7 999,-36.7 1007,-36.8 1015,-36.8 1023,-36.8 1031,-36.8 1039,-36.9 1047,-36.9 1055,-36.9 1063,-36.9 1071,-37 1079,-37 1087,-37 1095,-37.1 1103,-37.1 1111,-37.1 1119,-37.1 1127,-37.2 1135,-37.2 1143,-37.2 1151,-37.2 1163,-37.3 6000,-37.3 6000,3000 -3000,3000 -3000,129.3" fill="#d1e5f0"/>
<polygon points="105.4,133.8 105.4,133.8 162.5,135.9 217.1,140.1 236.1,144.3 309.6,139 393.6,132.7 485,125.4 540.7,118 599.5,109.2 635.7,104.4 704,94.9 732.4,86.5 749.2,78.1 759.7,70.1 898,-35 1150,-36 1150,-36 6000,-36 6000,3000 -3000,3000 -3000,133.8" fill="#b8d8e9"/>
<polygon points="93.4,137.6 105.4,138.2 162.5,141.1 217.1,155.8 236.1,163.2 309.6,155.8 393.6,148.5 485,141.6 599.5,124.3 652.5,115.9 704.4,105.4 757.6,90.7 789.1,70.8 799.2,64.3 6000,64.3 6000,3000 -3000,3000 -3000,137.6" fill="#9fcbe2"/>
<polygon points="93.4,142.1 105.4,142.8 162.5,146.4 194,160 217.1,174.7 236.1,182.1 309.6,173.7 393.6,165.3 485,157.9 599.5,139 652.5,131.7 704.4,124.3 799.6,126.4 820.6,124.3 822.7,97 818.5,69.7 816.7,57.8 6000,57.8 6000,3000 -3000,3000 -3000,142.1" fill="#82bbd9"/>
<polygon points="93.5,145.6 105.4,147.2 141.5,152.1 179.3,160 194,170.5 212.9,189.5 236.1,200.4 309.6,191.6 393.6,182.1 485,174.1 599.5,153.7 652.5,149.5 704.4,143.2 757.6,153.7 823.7,168.4 894.1,143.2 915.1,118 946.6,86.5 971.9,70.1 980.3,46.6 999.2,46.6 1007.6,70.1 1087.8,84.4 1099.6,86.5 6000,86.5 6000,3000 -3000,3000 -3000,145.6" fill="#63a7ce"/>
<polygon points="93.6,149.6 105.4,151.6 141.5,157.9 179.3,164.2 194,176.8 212.9,202.1 236.1,218.9 309.6,208.4 402,198.9 485,190.5 540.7,181.1 599.5,168.4 652.5,157.9 704.4,149.5 757.6,164.2 823.7,188.4 883.6,172.6 936.1,151.6 967.7,132.7 991.2,121.2 1030.7,117 1087.8,112.8 1099.8,111.9 6000,111.9 6000,3000 -3000,3000 -3000,149.6" fill="#4393c3"/>
<polygon points="83,155.8 95,155.8 103,155.8 111,156.5 119,157.5 127,158.5 135,159.5 143,164.8 151,174.4 159,183.2 167,190.1 175,194.6 183,199.5 191,205.9 199,212.6 207,219.4 215,225.6 223,230.1 231,234.5 239,237 247,236.3 255,235.6 263,234.9 271,234.2 279,233.5 287,232.8 295,232.1 303,231.5 311,230.7 319,229.9 327,229.2 335,228.5 343,227.8 351,227 359,226.3 367,225.6 375,224.7 383,223.5 391,222.3 399,221.1 407,219.9 415,218.7 423,217.1 431,215.5 439,213.9 447,212.3 455,210.7 463,209.3 471,208 479,206.7 487,205.5 495,204.3 503,203.2 511,202.1 519,200.9 527,199.8 535,198.7 543,197.4 551,195.8 559,194.3 567,192.7 575,191.1 583,189.5 591,188 599,186.4 607,184.5 615,182.6 623,180.7 631,178.8 639,176.9 647,175 655,173.2 663,171.7 671,170.1 679,168.6 687,167.1 695,165.5 703,164 711,165.7 719,168.2 727,170.8 735,174 743,177.1 751,180.3 759,183.6 767,187.1 775,190.7 783,193.9 791,196.8 799,199.8 807,202.7 815,205.7 823,208.6 831,207.4 839,205.8 847,204.2 855,202.6 863,201 871,199.4 879,197.7 887,195.7 895,193.2 903,190.7 911,188.1 919,185.6 927,183.1 935,180.5 943,177.3 951,173.8 959,170 967,166.3 975,163 983,159.7 991,156.4 999,154.6 1007,152.8 1015,151.2 1023,149.7 1031,148.2 1039,146.9 1047,145.5 1055,144.1 1063,142.8 1071,141.4 1079,140 1087,138.6 1095,138.5 1103,138.5 1111,138.5 1119,138.5 1127,138.5 1135,138.5 1143,138.5 1151,138.5 1163,138.5 6000,138.5 6000,3000 -3000,3000 -3000,155.8" fill="#3581ba"/>
<polygon points="93.4,159.2 105.4,160 135.2,162.1 145.7,174.7 154.1,197.9 168.8,221 194,239.9 236.1,255.6 305.4,253.5 372.6,248.3 414.6,239.9 456.6,227.3 485,221 540.7,214.7 599.5,204.2 652.5,189.5 704.4,177.9 726.1,185.3 778.6,212.6 823.7,229.4 883.6,221 946.6,206.3 1009.7,185.3 1087.8,164.2 1099.4,161.1 6000,161.1 6000,3000 -3000,3000 -3000,159.2" fill="#286fb1"/>
<polygon points="94.1,162.2 105.4,166.3 122.6,172.6 131,193.7 141.5,223.1 162.5,244.1 198.2,264.5 208.7,270.4 208.7,3000 -3000,3000 -3000,162.2" fill="#1b5b9d"/>
<polygon points="542.8,274.7 549.1,264.5 561.7,244.1 599.5,229.4 652.5,214.7 704.4,198.9 736.6,214.7 778.6,233.6 813.2,247.2 856.3,249.3 898.3,244.1 946.6,237.8 988.7,229.4 1030.7,218.9 1062.2,206.3 1087.8,189.5 1097.9,182.9 6000,182.9 6000,3000 542.8,3000" fill="#1b5b9d"/>
<polygon points="101.7,169.6 105.4,181.1 112.1,202.1 122.6,229.4 133.1,256.7 141.5,264.5 150.3,272.6 150.3,3000 -3000,3000 -3000,169.6" fill="#10467f"/>
<polygon points="673.5,265.1 673.5,265.1 666.2,248.3 679.8,239.9 704,233.6 724,244.1 736.6,256.7 747.1,265.1 747.1,265.1" fill="#10467f"/>
<polygon points="1006.2,266.5 1018.1,264.5 1051.7,258.8 1072.7,248.3 1083.2,229.4 1087.8,214.7 1091.4,203.2 6000,203.2 6000,3000 1006.2,3000" fill="#10467f"/>
</g>
<g clip-path="url(#c7)"><g mask="url(#m7)" fill="none" stroke="#000" stroke-width="1.9" stroke-linejoin="round">
<polyline points="105.4,100.2 105.4,100.2 191.9,97 236.1,95.3 288.6,88.6 330.6,81.3 370.5,70.1 783.2,-45 1150,-46 1150,-46"/>
<polyline points="105.4,115.9 105.4,115.9 183.5,114.9 236.1,112.8 307.5,106.5 376.8,99.5 414.6,90.7 439.8,82.3 460.8,70.1 650.7,-40 1150,-41 1150,-41"/>
<polyline points="105.4,133.8 105.4,133.8 162.5,135.9 217.1,140.1 236.1,144.3 309.6,139 393.6,132.7 485,125.4 540.7,118 599.5,109.2 635.7,104.4 704,94.9 732.4,86.5 749.2,78.1 759.7,70.1 898,-35 1150,-36 1150,-36"/>
<polyline points="93.6,149.6 105.4,151.6 141.5,157.9 179.3,164.2 194,176.8 212.9,202.1 236.1,218.9 309.6,208.4 402,198.9 485,190.5 540.7,181.1 599.5,168.4 652.5,157.9 704.4,149.5 757.6,164.2 823.7,188.4 883.6,172.6 936.1,151.6 967.7,132.7 991.2,121.2 1030.7,117 1087.8,112.8 1099.8,111.9"/>
<polyline points="93.4,159.2 105.4,160 135.2,162.1 145.7,174.7 154.1,197.9 168.8,221 194,239.9 236.1,255.6 305.4,253.5 372.6,248.3 414.6,239.9 456.6,227.3 485,221 540.7,214.7 599.5,204.2 652.5,189.5 704.4,177.9 726.1,185.3 778.6,212.6 823.7,229.4 883.6,221 946.6,206.3 1009.7,185.3 1087.8,164.2 1099.4,161.1"/>
<polyline points="94.1,162.2 105.4,166.3 122.6,172.6 131,193.7 141.5,223.1 162.5,244.1 198.2,264.5 208.7,270.4"/>
<polyline points="542.8,274.7 549.1,264.5 561.7,244.1 599.5,229.4 652.5,214.7 704.4,198.9 736.6,214.7 778.6,233.6 813.2,247.2 856.3,249.3 898.3,244.1 946.6,237.8 988.7,229.4 1030.7,218.9 1062.2,206.3 1087.8,189.5 1097.9,182.9"/>
<polyline points="101.7,169.6 105.4,181.1 112.1,202.1 122.6,229.4 133.1,256.7 141.5,264.5 150.3,272.6"/>
<polyline points="673.5,265.1 673.5,265.1 666.2,248.3 679.8,239.9 704,233.6 724,244.1 736.6,256.7 747.1,265.1 747.1,265.1"/>
<polyline points="1006.2,266.5 1018.1,264.5 1051.7,258.8 1072.7,248.3 1083.2,229.4 1087.8,214.7 1091.4,203.2"/>
</g></g>
<g clip-path="url(#bc7)">
<text x="214.9" y="97" transform="rotate(-3 214 97)" font-size="25.8" letter-spacing="1.9" text-anchor="middle" dominant-baseline="central" class="cl">2</text>
<text x="343.1" y="104.4" transform="rotate(-8 342.1 104.4)" font-size="25.8" letter-spacing="1.9" text-anchor="middle" dominant-baseline="central" class="cl">1.8</text>
<text x="671.3" y="100.2" transform="rotate(-12 670.4 100.2)" font-size="25.8" letter-spacing="1.9" text-anchor="middle" dominant-baseline="central" class="cl">1.6</text>
<text x="436.6" y="195.8" transform="rotate(-5 435.6 195.8)" font-size="25.8" letter-spacing="1.9" text-anchor="middle" dominant-baseline="central" class="cl">1.4</text>
<text x="271.7" y="257.7" transform="rotate(-3 270.7 257.7)" font-size="25.8" letter-spacing="1.9" text-anchor="middle" dominant-baseline="central" class="cl">1.3</text>
<text x="857.3" y="246.2" transform="rotate(-2 856.3 246.2)" font-size="25.8" letter-spacing="1.9" text-anchor="middle" dominant-baseline="central" class="cl">1.25</text>
<text x="123.6" y="227.3" transform="rotate(62 122.6 227.3)" font-size="25.8" letter-spacing="1.9" text-anchor="middle" dominant-baseline="central" class="cl">1.2</text>
<text x="704.9" y="254.6" transform="rotate(25 704 254.6)" font-size="25.8" letter-spacing="1.9" text-anchor="middle" dominant-baseline="central" class="cl">1.2</text>
</g>
<g clip-path="url(#bc7)" fill="none" stroke="#f00" stroke-width="1.9">
<circle cx="105.2" cy="69.4" r="6.6"/>
<circle cx="105.2" cy="165.4" r="6.6"/>
<circle cx="235.8" cy="69.4" r="6.6"/>
<circle cx="235.8" cy="125.5" r="6.6"/>
<circle cx="235.8" cy="266.4" r="6.6"/>
<circle cx="485" cy="69.4" r="6.6"/>
<circle cx="485" cy="95.7" r="6.6"/>
<circle cx="485" cy="225.1" r="6.6"/>
<circle cx="704" cy="69.4" r="6.6"/>
<circle cx="704" cy="185.3" r="6.6"/>
<circle cx="704" cy="245" r="6.6"/>
<circle cx="823" cy="69.4" r="6.6"/>
<circle cx="823" cy="145.4" r="6.6"/>
<circle cx="823" cy="266.4" r="6.6"/>
<circle cx="991" cy="69.4" r="6.6"/>
<circle cx="991" cy="115.6" r="6.6"/>
<circle cx="991" cy="266.4" r="6.6"/>
<circle cx="1088.2" cy="69.4" r="6.6"/>
<circle cx="1088.2" cy="215.1" r="6.6"/>
</g>
<rect x="105.2" y="63.3" width="983.4" height="202.2" fill="none" stroke="#000" stroke-width="1.9"/>
</g>
<g transform="translate(1280.5,798)">
<clipPath id="c8"><polygon points="105.2,293 1088.5,293 1088.5,677.2 991.7,648.2 991.7,411 915,382 485,382 236,411 236,500.3 105.2,527.6"/></clipPath>
<clipPath id="bc8"><rect x="105.2" y="293.1" width="983.4" height="421.1"/></clipPath>
<mask id="m8" maskUnits="userSpaceOnUse" x="0" y="0" width="1300" height="800"><rect x="0" y="0" width="1300" height="800" fill="#fff"/></mask>
<g clip-path="url(#c8)">
<rect x="105.2" y="293.1" width="983.4" height="421.1" fill="#1b5b9d"/>
<polygon points="204.5,291.3 204.5,291.3 236.1,310.2 485,309.2 536.5,291.3 536.5,291.3" fill="#286fb1"/>
<polygon points="673.5,291.3 673.5,291.3 704,303.5 745,291.3 745,291.3" fill="#286fb1"/>
<polygon points="137.3,287.6 147.8,293.4 204.5,324.9 236.1,338.6 305.4,341.3 393.6,344.9 485,349.1 599.5,344.9 704,340 823.1,354.3 915.1,381.6 925.6,386.9 936.4,392.3 936.4,3000 -3000,3000 -3000,-3000 137.3,-3000" fill="#10467f"/>
<polygon points="102.7,305.6 102.7,305.6 141.5,327 191.9,352.2 145.7,381.6 102.7,389.6 102.7,389.6" fill="#053061"/>
<polygon points="102.7,410.2 102.7,410.2 236.1,380.6 239.2,382.1 102.7,413.2 102.7,413.2" fill="#1b5b9d"/>
<polygon points="93.4,432.3 105.4,431 236.1,417.4 248,416.1 248,3000 -3000,3000 -3000,432.3" fill="#053061"/>
<polygon points="1010.8,285.9 1020.2,293.4 1056.9,322.8 1049.6,358.5 1045.4,381.6 1087.8,396.3 1099.2,400.3 6000,400.3 6000,-3000 1010.8,-3000" fill="#10467f"/>
<polygon points="979.4,411.8 991.2,414.2 1087.8,434.2 1099.6,436.6 6000,436.6 6000,3000 979.4,3000" fill="#10467f"/>
<polygon points="980.2,440.8 991.2,445.7 1030.7,463.6 1087.8,482.5 1099.2,486.2 6000,486.2 6000,3000 980.2,3000" fill="#053061"/>
</g>
<g clip-path="url(#c8)"><g mask="url(#m8)" fill="none" stroke="#000" stroke-width="1.9" stroke-linejoin="round">
<polyline points="204.5,291.3 204.5,291.3 236.1,310.2 485,309.2 536.5,291.3 536.5,291.3"/>
<polyline points="673.5,291.3 673.5,291.3 704,303.5 745,291.3 745,291.3"/>
<polyline points="137.3,287.6 147.8,293.4 204.5,324.9 236.1,338.6 238.1,338.7"/>
<polyline points="303.4,341.2 305.4,341.3 393.6,344.9 485,349.1 599.5,344.9 704,340 823.1,354.3 915.1,381.6 925.6,386.9 936.4,392.3"/>
<polyline points="180.2,346.4 191.9,352.2 145.7,381.6 102.7,389.6 102.7,389.6"/>
<polyline points="93.4,432.3 105.4,431 236.1,417.4 248,416.1"/>
<polyline points="1039.1,358.5 1039.1,358.5 1045.4,381.6 1087.8,396.3 1087.8,396.3"/>
<polyline points="979.4,411.8 991.2,414.2 1087.8,434.2 1099.6,436.6"/>
<polyline points="980.2,440.8 991.2,445.7 1030.7,463.6 1087.8,482.5 1099.2,486.2"/>
<polyline points="983.8,597.9 991,607.5 998.9,618 1035.7,633.7 1036.6,634.1"/>
<polyline points="1058.1,644 1064.5,646.9 1088.2,652.1 1099.9,654.7"/>
</g></g>
<g clip-path="url(#bc8)"><g mask="url(#m8)" fill="none" stroke="#000" stroke-width="1.9">
<polyline points="915.1,381.6 964.5,406.8"/>
<polyline points="105.4,411.1 121.6,411.7"/>
<polyline points="236.1,381.6 248.7,382.1"/>
</g></g>
<g clip-path="url(#bc8)">
<text x="144.6" y="328.1" transform="rotate(32 143.6 328.1)" font-size="25.8" letter-spacing="1.9" text-anchor="middle" dominant-baseline="central" class="cl">1.15</text>
<text x="272.7" y="341.7" transform="rotate(2 271.8 341.7)" font-size="25.8" letter-spacing="1.9" text-anchor="middle" dominant-baseline="central" class="cl">1.2</text>
<text x="1027.4" y="328.1" transform="rotate(65 1026.5 328.1)" font-size="25.8" letter-spacing="1.9" text-anchor="middle" dominant-baseline="central" class="cl">1.2</text>
<text x="1048" y="639.5" transform="rotate(15 1047 639.5)" font-size="25.8" letter-spacing="1.9" text-anchor="middle" dominant-baseline="central" class="cl">1</text>
</g>
<g clip-path="url(#bc8)"><polygon points="85.2,572.8 105.2,569.8 235.8,533.7 485,401.3 704,410.4 823,377.3 965.8,714.2 971.2,729.3 1138.6,764.2 55.2,764.2" fill="#c2c2c2"/><polyline points="85.2,572.8 105.2,569.8 235.8,533.7 485,401.3 704,410.4 823,377.3 965.8,714.2 971.2,729.3" fill="none" stroke="#000" stroke-width="1.9" stroke-linejoin="round"/></g>
<g clip-path="url(#bc8)" fill="none" stroke="#f00" stroke-width="1.9">
<circle cx="105.2" cy="353.8" r="6.6"/>
<circle cx="105.2" cy="382.7" r="6.6"/>
<circle cx="105.2" cy="413.4" r="6.6"/>
<circle cx="105.2" cy="443.5" r="6.6"/>
<circle cx="105.2" cy="472.9" r="6.6"/>
<circle cx="105.2" cy="502.4" r="6.6"/>
<circle cx="105.2" cy="534" r="6.6"/>
<circle cx="105.2" cy="553.6" r="6.6"/>
<circle cx="235.8" cy="294.8" r="6.6"/>
<circle cx="235.8" cy="353.8" r="6.6"/>
<circle cx="235.8" cy="382.1" r="6.6"/>
<circle cx="235.8" cy="411" r="6.6"/>
<circle cx="235.8" cy="443.5" r="6.6"/>
<circle cx="235.8" cy="470.8" r="6.6"/>
<circle cx="235.8" cy="499.4" r="6.6"/>
<circle cx="235.8" cy="517.2" r="6.6"/>
<circle cx="485" cy="337.2" r="6.6"/>
<circle cx="485" cy="400.1" r="6.6"/>
<circle cx="704" cy="294.2" r="6.6"/>
<circle cx="704" cy="323.4" r="6.6"/>
<circle cx="704" cy="352.6" r="6.6"/>
<circle cx="704" cy="404.9" r="6.6"/>
<circle cx="823" cy="294.8" r="6.6"/>
<circle cx="823" cy="337.2" r="6.6"/>
<circle cx="823" cy="386" r="6.6"/>
<circle cx="991" cy="294.5" r="6.6"/>
<circle cx="991" cy="323.4" r="6.6"/>
<circle cx="991" cy="353.5" r="6.6"/>
<circle cx="991" cy="413.4" r="6.6"/>
<circle cx="991" cy="473.2" r="6.6"/>
<circle cx="991" cy="533.7" r="6.6"/>
<circle cx="991" cy="593.9" r="6.6"/>
<circle cx="991" cy="648.4" r="6.6"/>
<circle cx="1088.2" cy="368.2" r="6.6"/>
<circle cx="1088.2" cy="412.5" r="6.6"/>
<circle cx="1088.2" cy="472.9" r="6.6"/>
<circle cx="1088.2" cy="533.7" r="6.6"/>
<circle cx="1088.2" cy="593.9" r="6.6"/>
<circle cx="1088.2" cy="654.7" r="6.6"/>
<circle cx="1088.2" cy="713.6" r="6.6"/>
</g>
<rect x="105.2" y="293.1" width="983.4" height="421.1" fill="none" stroke="#000" stroke-width="1.9"/>
</g>
<g transform="translate(1280.5,798)">
<rect x="1126.2" y="257.7" width="36.6" height="7.78" fill="#053061"/>
<rect x="1126.2" y="249.9" width="36.6" height="8.38" fill="#10467f"/>
<rect x="1126.2" y="242.2" width="36.6" height="8.38" fill="#1b5b9d"/>
<rect x="1126.2" y="234.4" width="36.6" height="8.38" fill="#286fb1"/>
<rect x="1126.2" y="226.6" width="36.6" height="8.38" fill="#3581ba"/>
<rect x="1126.2" y="218.8" width="36.6" height="8.38" fill="#4393c3"/>
<rect x="1126.2" y="211.1" width="36.6" height="8.38" fill="#63a7ce"/>
<rect x="1126.2" y="203.3" width="36.6" height="8.38" fill="#82bbd9"/>
<rect x="1126.2" y="195.5" width="36.6" height="8.38" fill="#9fcbe2"/>
<rect x="1126.2" y="187.7" width="36.6" height="8.38" fill="#b8d8e9"/>
<rect x="1126.2" y="180" width="36.6" height="8.38" fill="#d1e5f0"/>
<rect x="1126.2" y="172.2" width="36.6" height="8.38" fill="#e0ecf3"/>
<rect x="1126.2" y="164.4" width="36.6" height="8.38" fill="#eff3f6"/>
<rect x="1126.2" y="156.6" width="36.6" height="8.38" fill="#f8f1ed"/>
<rect x="1126.2" y="148.8" width="36.6" height="8.38" fill="#fbe6da"/>
<rect x="1126.2" y="141.1" width="36.6" height="8.38" fill="#fddbc7"/>
<rect x="1126.2" y="133.3" width="36.6" height="8.38" fill="#f9c5ab"/>
<rect x="1126.2" y="125.5" width="36.6" height="8.38" fill="#f6b090"/>
<rect x="1126.2" y="117.7" width="36.6" height="8.38" fill="#ee9777"/>
<rect x="1126.2" y="110" width="36.6" height="8.38" fill="#e27c62"/>
<rect x="1126.2" y="102.2" width="36.6" height="8.38" fill="#d6604d"/>
<rect x="1126.2" y="94.4" width="36.6" height="8.38" fill="#c8433f"/>
<rect x="1126.2" y="86.6" width="36.6" height="8.38" fill="#b92632"/>
<rect x="1126.2" y="78.9" width="36.6" height="8.38" fill="#a31329"/>
<rect x="1126.2" y="71.1" width="36.6" height="8.38" fill="#850a24"/>
<rect x="1126.2" y="63.3" width="36.6" height="8.38" fill="#67001f"/>
<rect x="1126.2" y="63.3" width="36.6" height="202.2" fill="none" stroke="#000" stroke-width="1.9"/>
<line x1="1162.8" y1="265.5" x2="1181.5" y2="265.5" stroke="#000" stroke-width="1.9"/>
<line x1="1162.8" y1="249.9" x2="1181.5" y2="249.9" stroke="#000" stroke-width="1.9"/>
<line x1="1162.8" y1="234.4" x2="1181.5" y2="234.4" stroke="#000" stroke-width="1.9"/>
<line x1="1162.8" y1="218.8" x2="1181.5" y2="218.8" stroke="#000" stroke-width="1.9"/>
<line x1="1162.8" y1="203.3" x2="1181.5" y2="203.3" stroke="#000" stroke-width="1.9"/>
<line x1="1162.8" y1="187.7" x2="1181.5" y2="187.7" stroke="#000" stroke-width="1.9"/>
<line x1="1162.8" y1="172.2" x2="1181.5" y2="172.2" stroke="#000" stroke-width="1.9"/>
<line x1="1162.8" y1="156.6" x2="1181.5" y2="156.6" stroke="#000" stroke-width="1.9"/>
<line x1="1162.8" y1="141.1" x2="1181.5" y2="141.1" stroke="#000" stroke-width="1.9"/>
<line x1="1162.8" y1="125.5" x2="1181.5" y2="125.5" stroke="#000" stroke-width="1.9"/>
<line x1="1162.8" y1="110" x2="1181.5" y2="110" stroke="#000" stroke-width="1.9"/>
<line x1="1162.8" y1="94.4" x2="1181.5" y2="94.4" stroke="#000" stroke-width="1.9"/>
<line x1="1162.8" y1="78.9" x2="1181.5" y2="78.9" stroke="#000" stroke-width="1.9"/>
<line x1="1162.8" y1="63.3" x2="1181.5" y2="63.3" stroke="#000" stroke-width="1.9"/>
<text transform="translate(1219,265.5) rotate(-90)" font-size="32" text-anchor="middle">1.1</text>
<text transform="translate(1219,187.7) rotate(-90)" font-size="32" text-anchor="middle">1.6</text>
<text transform="translate(1219,110) rotate(-90)" font-size="32" text-anchor="middle">2.1</text>
</g>
<g transform="translate(1280.5,798)">
<rect x="1126.2" y="698.1" width="36.6" height="16.20" fill="#053061"/>
<rect x="1126.2" y="681.9" width="36.6" height="16.80" fill="#10467f"/>
<rect x="1126.2" y="665.7" width="36.6" height="16.80" fill="#1b5b9d"/>
<rect x="1126.2" y="649.5" width="36.6" height="16.80" fill="#286fb1"/>
<rect x="1126.2" y="633.3" width="36.6" height="16.80" fill="#3581ba"/>
<rect x="1126.2" y="617.1" width="36.6" height="16.80" fill="#4393c3"/>
<rect x="1126.2" y="600.9" width="36.6" height="16.80" fill="#63a7ce"/>
<rect x="1126.2" y="584.7" width="36.6" height="16.80" fill="#82bbd9"/>
<rect x="1126.2" y="568.5" width="36.6" height="16.80" fill="#9fcbe2"/>
<rect x="1126.2" y="552.3" width="36.6" height="16.80" fill="#b8d8e9"/>
<rect x="1126.2" y="536.1" width="36.6" height="16.80" fill="#d1e5f0"/>
<rect x="1126.2" y="519.9" width="36.6" height="16.80" fill="#e0ecf3"/>
<rect x="1126.2" y="503.7" width="36.6" height="16.80" fill="#eff3f6"/>
<rect x="1126.2" y="487.5" width="36.6" height="16.80" fill="#f8f1ed"/>
<rect x="1126.2" y="471.3" width="36.6" height="16.80" fill="#fbe6da"/>
<rect x="1126.2" y="455.1" width="36.6" height="16.80" fill="#fddbc7"/>
<rect x="1126.2" y="438.9" width="36.6" height="16.80" fill="#f9c5ab"/>
<rect x="1126.2" y="422.7" width="36.6" height="16.80" fill="#f6b090"/>
<rect x="1126.2" y="406.5" width="36.6" height="16.80" fill="#ee9777"/>
<rect x="1126.2" y="390.3" width="36.6" height="16.80" fill="#e27c62"/>
<rect x="1126.2" y="374.1" width="36.6" height="16.80" fill="#d6604d"/>
<rect x="1126.2" y="357.9" width="36.6" height="16.80" fill="#c8433f"/>
<rect x="1126.2" y="341.7" width="36.6" height="16.80" fill="#b92632"/>
<rect x="1126.2" y="325.5" width="36.6" height="16.80" fill="#a31329"/>
<rect x="1126.2" y="309.3" width="36.6" height="16.80" fill="#850a24"/>
<rect x="1126.2" y="293.1" width="36.6" height="16.80" fill="#67001f"/>
<rect x="1126.2" y="293.1" width="36.6" height="421.1" fill="none" stroke="#000" stroke-width="1.9"/>
<line x1="1162.8" y1="714.2" x2="1181.5" y2="714.2" stroke="#000" stroke-width="1.9"/>
<line x1="1162.8" y1="681.9" x2="1181.5" y2="681.9" stroke="#000" stroke-width="1.9"/>
<line x1="1162.8" y1="649.5" x2="1181.5" y2="649.5" stroke="#000" stroke-width="1.9"/>
<line x1="1162.8" y1="617.1" x2="1181.5" y2="617.1" stroke="#000" stroke-width="1.9"/>
<line x1="1162.8" y1="584.7" x2="1181.5" y2="584.7" stroke="#000" stroke-width="1.9"/>
<line x1="1162.8" y1="552.3" x2="1181.5" y2="552.3" stroke="#000" stroke-width="1.9"/>
<line x1="1162.8" y1="519.9" x2="1181.5" y2="519.9" stroke="#000" stroke-width="1.9"/>
<line x1="1162.8" y1="487.5" x2="1181.5" y2="487.5" stroke="#000" stroke-width="1.9"/>
<line x1="1162.8" y1="455.1" x2="1181.5" y2="455.1" stroke="#000" stroke-width="1.9"/>
<line x1="1162.8" y1="422.7" x2="1181.5" y2="422.7" stroke="#000" stroke-width="1.9"/>
<line x1="1162.8" y1="390.3" x2="1181.5" y2="390.3" stroke="#000" stroke-width="1.9"/>
<line x1="1162.8" y1="357.9" x2="1181.5" y2="357.9" stroke="#000" stroke-width="1.9"/>
<line x1="1162.8" y1="325.5" x2="1181.5" y2="325.5" stroke="#000" stroke-width="1.9"/>
<line x1="1162.8" y1="293.1" x2="1181.5" y2="293.1" stroke="#000" stroke-width="1.9"/>
<text transform="translate(1219,714.2) rotate(-90)" font-size="32" text-anchor="middle">1.1</text>
<text transform="translate(1219,617.1) rotate(-90)" font-size="32" text-anchor="middle">1.4</text>
<text transform="translate(1219,519.9) rotate(-90)" font-size="32" text-anchor="middle">1.7</text>
<text transform="translate(1219,422.7) rotate(-90)" font-size="32" text-anchor="middle">2.0</text>
<text transform="translate(1219,325.5) rotate(-90)" font-size="32" text-anchor="middle">2.3</text>
</g>
<g transform="translate(1280.5,798)">
<g stroke="#000" stroke-width="1.9" fill="none">
<line x1="105.2" y1="44.4" x2="105.2" y2="63.3"/>
<line x1="235.8" y1="44.4" x2="235.8" y2="63.3"/>
<line x1="485" y1="44.4" x2="485" y2="63.3"/>
<line x1="704" y1="44.4" x2="704" y2="63.3"/>
<line x1="823" y1="44.4" x2="823" y2="63.3"/>
<line x1="991" y1="44.4" x2="991" y2="63.3"/>
<line x1="1088.2" y1="44.4" x2="1088.2" y2="63.3"/>
<line x1="86" y1="65.8" x2="105.2" y2="65.8"/>
<line x1="86" y1="115.6" x2="105.2" y2="115.6"/>
<line x1="86" y1="165.4" x2="105.2" y2="165.4"/>
<line x1="86" y1="215.1" x2="105.2" y2="215.1"/>
<line x1="86" y1="264.9" x2="105.2" y2="264.9"/>
<line x1="86" y1="293" x2="105.2" y2="293"/>
<line x1="86" y1="353.2" x2="105.2" y2="353.2"/>
<line x1="86" y1="413.4" x2="105.2" y2="413.4"/>
<line x1="86" y1="473.5" x2="105.2" y2="473.5"/>
<line x1="86" y1="533.7" x2="105.2" y2="533.7"/>
<line x1="86" y1="593.9" x2="105.2" y2="593.9"/>
<line x1="86" y1="654.1" x2="105.2" y2="654.1"/>
<line x1="86" y1="714.2" x2="105.2" y2="714.2"/>
<line x1="105.2" y1="714.2" x2="105.2" y2="733.6"/>
<line x1="285.6" y1="714.2" x2="285.6" y2="733.6"/>
<line x1="466" y1="714.2" x2="466" y2="733.6"/>
<line x1="646.5" y1="714.2" x2="646.5" y2="733.6"/>
<line x1="826.9" y1="714.2" x2="826.9" y2="733.6"/>
<line x1="1007.3" y1="714.2" x2="1007.3" y2="733.6"/>
</g>
<text transform="translate(72.4,65.8) rotate(-90)" font-size="32" text-anchor="middle">0</text>
<text transform="translate(72.4,165.4) rotate(-90)" font-size="32" text-anchor="middle">100</text>
<text transform="translate(72.4,264.9) rotate(-90)" font-size="32" text-anchor="middle">200</text>
<text transform="translate(72.4,353.2) rotate(-90)" font-size="32" text-anchor="middle">400</text>
<text transform="translate(72.4,473.5) rotate(-90)" font-size="32" text-anchor="middle">800</text>
<text transform="translate(72.4,593.9) rotate(-90)" font-size="32" text-anchor="middle">1200</text>
<text transform="translate(72.4,714.2) rotate(-90)" font-size="32" text-anchor="middle">1600</text>
<text x="105.2" y="769.7" font-size="32" text-anchor="middle">0</text>
<text x="285.6" y="769.7" font-size="32" text-anchor="middle">100</text>
<text x="466" y="769.7" font-size="32" text-anchor="middle">200</text>
<text x="646.5" y="769.7" font-size="32" text-anchor="middle">300</text>
<text x="826.9" y="769.7" font-size="32" text-anchor="middle">400</text>
<text x="1007.3" y="769.7" font-size="32" text-anchor="middle">500</text>
<text transform="translate(23.3,164.4) rotate(-90)" font-size="30.8" text-anchor="middle">Depth [m]</text>
<text transform="translate(23.3,503.7) rotate(-90)" font-size="30.8" text-anchor="middle">Depth [m]</text>
<text x="597.4" y="816.8" font-size="30.8" text-anchor="middle">Distance [km]</text>
<text x="130" y="680.3" font-size="54.4">D) Ω<tspan dy="9.5" font-size="38">ar</tspan><tspan dy="-9.5">&#8203;</tspan></text>
</g>
<text x="106.5" y="32.2" font-size="43.6" text-anchor="middle">3-4</text>
<text x="237" y="32.2" font-size="43.6" text-anchor="middle">25-26</text>
<text x="485" y="32.2" font-size="43.6" text-anchor="middle">22</text>
<text x="704" y="32.2" font-size="43.6" text-anchor="middle">47</text>
<text x="823" y="32.2" font-size="43.6" text-anchor="middle">27</text>
<text x="990.5" y="32.2" font-size="43.6" text-anchor="middle">30-31</text>
<text x="1123" y="32.2" font-size="43.6" text-anchor="middle">28-29</text>
<text x="75.2" y="1624.1" font-size="43.6">SOUTH</text>
<text x="972.6" y="1624.1" font-size="43.6">NORTH</text>
<text x="1387" y="32.2" font-size="43.6" text-anchor="middle">3-4</text>
<text x="1517.5" y="32.2" font-size="43.6" text-anchor="middle">25-26</text>
<text x="1765.5" y="32.2" font-size="43.6" text-anchor="middle">22</text>
<text x="1984.5" y="32.2" font-size="43.6" text-anchor="middle">47</text>
<text x="2103.5" y="32.2" font-size="43.6" text-anchor="middle">27</text>
<text x="2271" y="32.2" font-size="43.6" text-anchor="middle">30-31</text>
<text x="2403.5" y="32.2" font-size="43.6" text-anchor="middle">28-29</text>
<text x="1355.7" y="1624.1" font-size="43.6">SOUTH</text>
<text x="2253.1" y="1624.1" font-size="43.6">NORTH</text>
</svg></body></html>
